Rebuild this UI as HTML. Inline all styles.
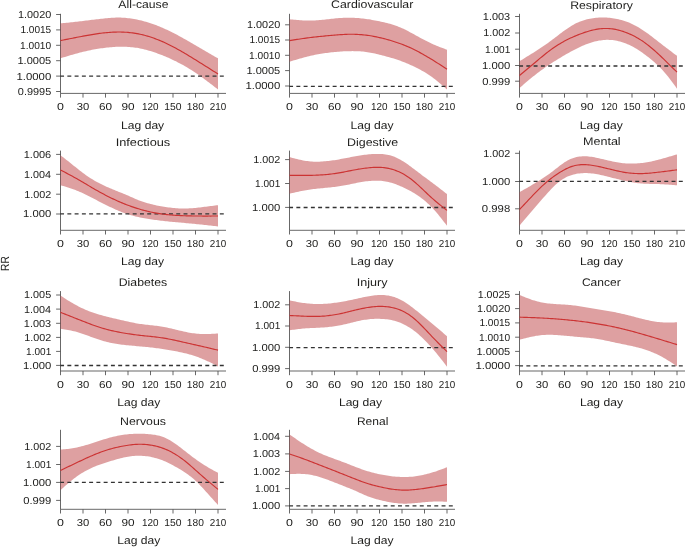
<!DOCTYPE html><html><head><meta charset="utf-8"><style>html,body{margin:0;padding:0;background:#fff;width:685px;height:547px;overflow:hidden}svg{display:block;will-change:transform;text-rendering:geometricPrecision}text{font-family:"Liberation Sans",sans-serif;fill:#1d1d1b}</style></head><body>
<svg width="685" height="547" viewBox="0 0 685 547">
<rect width="685" height="547" fill="#fff"/>
<path d="M60.50,13.80 V93.40 H226.00" fill="none" stroke="#4d4d4d" stroke-width="0.85"/>
<path d="M60.50,23.30 L62.00,23.17 L63.50,23.04 L65.00,22.91 L66.50,22.78 L68.00,22.64 L69.50,22.49 L71.00,22.33 L72.50,22.17 L74.00,22.00 L75.50,21.83 L77.00,21.66 L78.50,21.48 L80.00,21.31 L81.50,21.13 L83.00,20.95 L84.50,20.77 L86.00,20.59 L87.50,20.41 L89.00,20.23 L90.50,20.05 L92.00,19.87 L93.50,19.69 L95.00,19.51 L96.50,19.33 L98.00,19.16 L99.50,18.98 L101.00,18.81 L102.50,18.63 L104.00,18.47 L105.50,18.31 L107.00,18.16 L108.50,18.03 L110.00,17.90 L111.50,17.80 L113.00,17.71 L114.50,17.64 L116.00,17.60 L117.50,17.58 L119.00,17.58 L120.50,17.61 L122.00,17.66 L123.50,17.74 L125.00,17.85 L126.50,17.98 L128.00,18.14 L129.50,18.32 L131.00,18.52 L132.50,18.76 L134.00,19.01 L135.50,19.28 L137.00,19.58 L138.50,19.90 L140.00,20.24 L141.50,20.60 L143.00,20.98 L144.50,21.39 L146.00,21.81 L147.50,22.26 L149.00,22.73 L150.50,23.22 L152.00,23.73 L153.50,24.25 L155.00,24.80 L156.50,25.36 L158.00,25.94 L159.50,26.54 L161.00,27.16 L162.50,27.80 L164.00,28.46 L165.50,29.14 L167.00,29.84 L168.50,30.55 L170.00,31.28 L171.50,32.02 L173.00,32.77 L174.50,33.54 L176.00,34.32 L177.50,35.11 L179.00,35.91 L180.50,36.73 L182.00,37.55 L183.50,38.38 L185.00,39.22 L186.50,40.06 L188.00,40.92 L189.50,41.78 L191.00,42.65 L192.50,43.52 L194.00,44.40 L195.50,45.28 L197.00,46.16 L198.50,47.05 L200.00,47.94 L201.50,48.83 L203.00,49.71 L204.50,50.59 L206.00,51.47 L207.50,52.33 L209.00,53.20 L210.50,54.06 L212.00,54.92 L213.50,55.78 L215.00,56.63 L216.50,57.48 L218.00,58.34 L218.00,89.51 L216.50,88.35 L215.00,87.18 L213.50,86.02 L212.00,84.86 L210.50,83.71 L209.00,82.56 L207.50,81.43 L206.00,80.30 L204.50,79.18 L203.00,78.08 L201.50,76.99 L200.00,75.91 L198.50,74.86 L197.00,73.82 L195.50,72.80 L194.00,71.80 L192.50,70.82 L191.00,69.86 L189.50,68.92 L188.00,68.00 L186.50,67.11 L185.00,66.23 L183.50,65.37 L182.00,64.53 L180.50,63.71 L179.00,62.91 L177.50,62.13 L176.00,61.37 L174.50,60.63 L173.00,59.90 L171.50,59.20 L170.00,58.51 L168.50,57.84 L167.00,57.19 L165.50,56.55 L164.00,55.94 L162.50,55.34 L161.00,54.75 L159.50,54.19 L158.00,53.64 L156.50,53.10 L155.00,52.58 L153.50,52.08 L152.00,51.60 L150.50,51.12 L149.00,50.67 L147.50,50.23 L146.00,49.81 L144.50,49.42 L143.00,49.05 L141.50,48.71 L140.00,48.40 L138.50,48.12 L137.00,47.87 L135.50,47.65 L134.00,47.45 L132.50,47.28 L131.00,47.14 L129.50,47.02 L128.00,46.92 L126.50,46.84 L125.00,46.79 L123.50,46.75 L122.00,46.73 L120.50,46.74 L119.00,46.76 L117.50,46.81 L116.00,46.87 L114.50,46.95 L113.00,47.04 L111.50,47.16 L110.00,47.28 L108.50,47.43 L107.00,47.59 L105.50,47.76 L104.00,47.94 L102.50,48.14 L101.00,48.35 L99.50,48.57 L98.00,48.81 L96.50,49.06 L95.00,49.32 L93.50,49.59 L92.00,49.87 L90.50,50.17 L89.00,50.48 L87.50,50.81 L86.00,51.14 L84.50,51.49 L83.00,51.85 L81.50,52.22 L80.00,52.60 L78.50,53.00 L77.00,53.40 L75.50,53.81 L74.00,54.23 L72.50,54.66 L71.00,55.10 L69.50,55.54 L68.00,55.98 L66.50,56.43 L65.00,56.88 L63.50,57.34 L62.00,57.79 L60.50,58.25 Z" fill="rgb(189,65,67)" fill-opacity="0.5"/>
<line x1="60.10" y1="76.20" x2="226.00" y2="76.20" stroke="#333333" stroke-width="1.3" stroke-dasharray="3.95 3.31"/>
<path d="M60.50,40.59 L62.00,40.29 L63.50,39.98 L65.00,39.68 L66.50,39.38 L68.00,39.08 L69.50,38.78 L71.00,38.48 L72.50,38.19 L74.00,37.89 L75.50,37.60 L77.00,37.31 L78.50,37.02 L80.00,36.73 L81.50,36.45 L83.00,36.16 L84.50,35.89 L86.00,35.61 L87.50,35.34 L89.00,35.07 L90.50,34.81 L92.00,34.56 L93.50,34.32 L95.00,34.08 L96.50,33.85 L98.00,33.64 L99.50,33.43 L101.00,33.23 L102.50,33.05 L104.00,32.88 L105.50,32.72 L107.00,32.58 L108.50,32.45 L110.00,32.34 L111.50,32.25 L113.00,32.17 L114.50,32.10 L116.00,32.06 L117.50,32.03 L119.00,32.02 L120.50,32.03 L122.00,32.07 L123.50,32.12 L125.00,32.20 L126.50,32.30 L128.00,32.42 L129.50,32.57 L131.00,32.74 L132.50,32.93 L134.00,33.14 L135.50,33.38 L137.00,33.64 L138.50,33.92 L140.00,34.23 L141.50,34.56 L143.00,34.92 L144.50,35.29 L146.00,35.69 L147.50,36.12 L149.00,36.57 L150.50,37.04 L152.00,37.54 L153.50,38.06 L155.00,38.60 L156.50,39.17 L158.00,39.75 L159.50,40.36 L161.00,40.99 L162.50,41.64 L164.00,42.31 L165.50,43.00 L167.00,43.71 L168.50,44.44 L170.00,45.18 L171.50,45.95 L173.00,46.72 L174.50,47.52 L176.00,48.33 L177.50,49.16 L179.00,49.99 L180.50,50.85 L182.00,51.71 L183.50,52.58 L185.00,53.47 L186.50,54.36 L188.00,55.26 L189.50,56.17 L191.00,57.08 L192.50,58.00 L194.00,58.93 L195.50,59.85 L197.00,60.78 L198.50,61.72 L200.00,62.65 L201.50,63.59 L203.00,64.53 L204.50,65.47 L206.00,66.41 L207.50,67.36 L209.00,68.30 L210.50,69.25 L212.00,70.20 L213.50,71.14 L215.00,72.09 L216.50,73.04 L218.00,73.99" fill="none" stroke="#cc3333" stroke-width="1.15"/>
<line x1="56.10" y1="14.50" x2="60.50" y2="14.50" stroke="#4d4d4d" stroke-width="0.85"/>
<text transform="matrix(1.0741,0,0,1,18.04,17.90)" font-size="10.1">1.0020</text>
<line x1="56.10" y1="29.90" x2="60.50" y2="29.90" stroke="#4d4d4d" stroke-width="0.85"/>
<text transform="matrix(0.9966,0,0,1,20.40,33.30)" font-size="10.1">1.0015</text>
<line x1="56.10" y1="45.30" x2="60.50" y2="45.30" stroke="#4d4d4d" stroke-width="0.85"/>
<text transform="matrix(1.0067,0,0,1,20.09,48.70)" font-size="10.1">1.0010</text>
<line x1="56.10" y1="60.70" x2="60.50" y2="60.70" stroke="#4d4d4d" stroke-width="0.85"/>
<text transform="matrix(1.0943,0,0,1,17.42,64.10)" font-size="10.1">1.0005</text>
<line x1="56.10" y1="76.10" x2="60.50" y2="76.10" stroke="#4d4d4d" stroke-width="0.85"/>
<text transform="matrix(1.1246,0,0,1,16.50,79.50)" font-size="10.1">1.0000</text>
<line x1="56.10" y1="91.50" x2="60.50" y2="91.50" stroke="#4d4d4d" stroke-width="0.85"/>
<text transform="matrix(1.0797,0,0,1,17.87,94.90)" font-size="10.1">0.9995</text>
<line x1="60.50" y1="93.40" x2="60.50" y2="97.60" stroke="#4d4d4d" stroke-width="0.85"/>
<text transform="matrix(1.2292,0,0,1,57.06,110.20)" font-size="10.1">0</text>
<line x1="83.00" y1="93.40" x2="83.00" y2="97.60" stroke="#4d4d4d" stroke-width="0.85"/>
<text transform="matrix(1.1154,0,0,1,76.75,110.20)" font-size="10.1">30</text>
<line x1="105.50" y1="93.40" x2="105.50" y2="97.60" stroke="#4d4d4d" stroke-width="0.85"/>
<text transform="matrix(1.1650,0,0,1,98.92,110.20)" font-size="10.1">60</text>
<line x1="128.00" y1="93.40" x2="128.00" y2="97.60" stroke="#4d4d4d" stroke-width="0.85"/>
<text transform="matrix(1.1650,0,0,1,121.42,110.20)" font-size="10.1">90</text>
<line x1="150.50" y1="93.40" x2="150.50" y2="97.60" stroke="#4d4d4d" stroke-width="0.85"/>
<text transform="matrix(0.9808,0,0,1,142.07,110.20)" font-size="10.1">120</text>
<line x1="173.00" y1="93.40" x2="173.00" y2="97.60" stroke="#4d4d4d" stroke-width="0.85"/>
<text transform="matrix(1.0256,0,0,1,164.18,110.20)" font-size="10.1">150</text>
<line x1="195.50" y1="93.40" x2="195.50" y2="97.60" stroke="#4d4d4d" stroke-width="0.85"/>
<text transform="matrix(1.0128,0,0,1,186.79,110.20)" font-size="10.1">180</text>
<line x1="218.00" y1="93.40" x2="218.00" y2="97.60" stroke="#4d4d4d" stroke-width="0.85"/>
<text transform="matrix(0.9748,0,0,1,209.76,110.20)" font-size="10.1">210</text>
<text transform="matrix(1.1074,0,0,1,118.35,8.20)" font-size="11.0">All-cause</text>
<text transform="matrix(1.0995,0,0,1,121.11,129.00)" font-size="11.0">Lag day</text>
<path d="M289.50,13.80 V93.40 H455.00" fill="none" stroke="#4d4d4d" stroke-width="0.85"/>
<path d="M289.50,19.30 L291.00,19.45 L292.50,19.59 L294.00,19.73 L295.50,19.87 L297.00,19.99 L298.50,20.11 L300.00,20.22 L301.50,20.32 L303.00,20.41 L304.50,20.48 L306.00,20.53 L307.50,20.57 L309.00,20.58 L310.50,20.58 L312.00,20.55 L313.50,20.50 L315.00,20.42 L316.50,20.33 L318.00,20.22 L319.50,20.09 L321.00,19.95 L322.50,19.79 L324.00,19.63 L325.50,19.47 L327.00,19.30 L328.50,19.13 L330.00,18.95 L331.50,18.79 L333.00,18.63 L334.50,18.47 L336.00,18.33 L337.50,18.20 L339.00,18.08 L340.50,17.97 L342.00,17.88 L343.50,17.81 L345.00,17.75 L346.50,17.71 L348.00,17.69 L349.50,17.69 L351.00,17.71 L352.50,17.76 L354.00,17.81 L355.50,17.89 L357.00,17.99 L358.50,18.10 L360.00,18.23 L361.50,18.38 L363.00,18.55 L364.50,18.73 L366.00,18.93 L367.50,19.14 L369.00,19.37 L370.50,19.62 L372.00,19.88 L373.50,20.16 L375.00,20.44 L376.50,20.74 L378.00,21.05 L379.50,21.36 L381.00,21.68 L382.50,22.01 L384.00,22.35 L385.50,22.70 L387.00,23.07 L388.50,23.46 L390.00,23.86 L391.50,24.30 L393.00,24.75 L394.50,25.24 L396.00,25.76 L397.50,26.31 L399.00,26.89 L400.50,27.52 L402.00,28.18 L403.50,28.87 L405.00,29.60 L406.50,30.35 L408.00,31.12 L409.50,31.91 L411.00,32.71 L412.50,33.53 L414.00,34.35 L415.50,35.17 L417.00,36.00 L418.50,36.82 L420.00,37.64 L421.50,38.46 L423.00,39.26 L424.50,40.05 L426.00,40.83 L427.50,41.60 L429.00,42.34 L430.50,43.07 L432.00,43.77 L433.50,44.45 L435.00,45.10 L436.50,45.73 L438.00,46.34 L439.50,46.93 L441.00,47.50 L442.50,48.06 L444.00,48.61 L445.50,49.16 L447.00,49.70 L447.00,89.46 L445.50,88.14 L444.00,86.82 L442.50,85.51 L441.00,84.22 L439.50,82.95 L438.00,81.71 L436.50,80.51 L435.00,79.33 L433.50,78.19 L432.00,77.09 L430.50,76.03 L429.00,75.00 L427.50,74.00 L426.00,73.05 L424.50,72.12 L423.00,71.23 L421.50,70.38 L420.00,69.55 L418.50,68.75 L417.00,67.98 L415.50,67.24 L414.00,66.51 L412.50,65.81 L411.00,65.13 L409.50,64.46 L408.00,63.81 L406.50,63.18 L405.00,62.57 L403.50,61.98 L402.00,61.41 L400.50,60.85 L399.00,60.32 L397.50,59.81 L396.00,59.31 L394.50,58.83 L393.00,58.37 L391.50,57.92 L390.00,57.48 L388.50,57.06 L387.00,56.64 L385.50,56.24 L384.00,55.84 L382.50,55.46 L381.00,55.08 L379.50,54.70 L378.00,54.33 L376.50,53.97 L375.00,53.62 L373.50,53.28 L372.00,52.96 L370.50,52.67 L369.00,52.40 L367.50,52.16 L366.00,51.95 L364.50,51.76 L363.00,51.60 L361.50,51.47 L360.00,51.36 L358.50,51.27 L357.00,51.21 L355.50,51.16 L354.00,51.13 L352.50,51.12 L351.00,51.13 L349.50,51.15 L348.00,51.18 L346.50,51.23 L345.00,51.29 L343.50,51.37 L342.00,51.45 L340.50,51.55 L339.00,51.66 L337.50,51.78 L336.00,51.90 L334.50,52.04 L333.00,52.19 L331.50,52.35 L330.00,52.52 L328.50,52.70 L327.00,52.89 L325.50,53.09 L324.00,53.30 L322.50,53.53 L321.00,53.76 L319.50,54.02 L318.00,54.28 L316.50,54.56 L315.00,54.86 L313.50,55.17 L312.00,55.50 L310.50,55.84 L309.00,56.20 L307.50,56.57 L306.00,56.95 L304.50,57.35 L303.00,57.76 L301.50,58.17 L300.00,58.60 L298.50,59.03 L297.00,59.47 L295.50,59.92 L294.00,60.37 L292.50,60.82 L291.00,61.28 L289.50,61.73 Z" fill="rgb(189,65,67)" fill-opacity="0.5"/>
<line x1="289.10" y1="86.40" x2="455.00" y2="86.40" stroke="#333333" stroke-width="1.3" stroke-dasharray="3.95 3.31"/>
<path d="M289.50,40.57 L291.00,40.34 L292.50,40.11 L294.00,39.88 L295.50,39.65 L297.00,39.43 L298.50,39.20 L300.00,38.98 L301.50,38.76 L303.00,38.54 L304.50,38.33 L306.00,38.13 L307.50,37.92 L309.00,37.73 L310.50,37.54 L312.00,37.35 L313.50,37.17 L315.00,37.00 L316.50,36.83 L318.00,36.67 L319.50,36.52 L321.00,36.37 L322.50,36.22 L324.00,36.08 L325.50,35.94 L327.00,35.80 L328.50,35.67 L330.00,35.54 L331.50,35.41 L333.00,35.28 L334.50,35.16 L336.00,35.03 L337.50,34.91 L339.00,34.79 L340.50,34.68 L342.00,34.58 L343.50,34.49 L345.00,34.41 L346.50,34.35 L348.00,34.30 L349.50,34.27 L351.00,34.26 L352.50,34.27 L354.00,34.29 L355.50,34.34 L357.00,34.40 L358.50,34.48 L360.00,34.57 L361.50,34.69 L363.00,34.82 L364.50,34.97 L366.00,35.14 L367.50,35.33 L369.00,35.54 L370.50,35.78 L372.00,36.04 L373.50,36.31 L375.00,36.61 L376.50,36.92 L378.00,37.24 L379.50,37.58 L381.00,37.93 L382.50,38.29 L384.00,38.67 L385.50,39.06 L387.00,39.46 L388.50,39.87 L390.00,40.30 L391.50,40.75 L393.00,41.21 L394.50,41.68 L396.00,42.18 L397.50,42.68 L399.00,43.21 L400.50,43.75 L402.00,44.31 L403.50,44.89 L405.00,45.48 L406.50,46.10 L408.00,46.74 L409.50,47.40 L411.00,48.08 L412.50,48.78 L414.00,49.51 L415.50,50.26 L417.00,51.03 L418.50,51.82 L420.00,52.63 L421.50,53.45 L423.00,54.29 L424.50,55.14 L426.00,56.01 L427.50,56.88 L429.00,57.77 L430.50,58.67 L432.00,59.59 L433.50,60.51 L435.00,61.45 L436.50,62.40 L438.00,63.36 L439.50,64.33 L441.00,65.32 L442.50,66.30 L444.00,67.30 L445.50,68.29 L447.00,69.29" fill="none" stroke="#cc3333" stroke-width="1.15"/>
<line x1="285.10" y1="24.80" x2="289.50" y2="24.80" stroke="#4d4d4d" stroke-width="0.85"/>
<text transform="matrix(1.0741,0,0,1,247.04,28.20)" font-size="10.1">1.0020</text>
<line x1="285.10" y1="40.00" x2="289.50" y2="40.00" stroke="#4d4d4d" stroke-width="0.85"/>
<text transform="matrix(0.9966,0,0,1,249.40,43.40)" font-size="10.1">1.0015</text>
<line x1="285.10" y1="55.30" x2="289.50" y2="55.30" stroke="#4d4d4d" stroke-width="0.85"/>
<text transform="matrix(1.0067,0,0,1,249.09,58.70)" font-size="10.1">1.0010</text>
<line x1="285.10" y1="70.60" x2="289.50" y2="70.60" stroke="#4d4d4d" stroke-width="0.85"/>
<text transform="matrix(1.0943,0,0,1,246.42,74.00)" font-size="10.1">1.0005</text>
<line x1="285.10" y1="86.00" x2="289.50" y2="86.00" stroke="#4d4d4d" stroke-width="0.85"/>
<text transform="matrix(1.1246,0,0,1,245.50,89.40)" font-size="10.1">1.0000</text>
<line x1="289.50" y1="93.40" x2="289.50" y2="97.60" stroke="#4d4d4d" stroke-width="0.85"/>
<text transform="matrix(1.2292,0,0,1,286.06,110.20)" font-size="10.1">0</text>
<line x1="312.00" y1="93.40" x2="312.00" y2="97.60" stroke="#4d4d4d" stroke-width="0.85"/>
<text transform="matrix(1.1154,0,0,1,305.75,110.20)" font-size="10.1">30</text>
<line x1="334.50" y1="93.40" x2="334.50" y2="97.60" stroke="#4d4d4d" stroke-width="0.85"/>
<text transform="matrix(1.1650,0,0,1,327.92,110.20)" font-size="10.1">60</text>
<line x1="357.00" y1="93.40" x2="357.00" y2="97.60" stroke="#4d4d4d" stroke-width="0.85"/>
<text transform="matrix(1.1650,0,0,1,350.42,110.20)" font-size="10.1">90</text>
<line x1="379.50" y1="93.40" x2="379.50" y2="97.60" stroke="#4d4d4d" stroke-width="0.85"/>
<text transform="matrix(0.9808,0,0,1,371.07,110.20)" font-size="10.1">120</text>
<line x1="402.00" y1="93.40" x2="402.00" y2="97.60" stroke="#4d4d4d" stroke-width="0.85"/>
<text transform="matrix(1.0256,0,0,1,393.18,110.20)" font-size="10.1">150</text>
<line x1="424.50" y1="93.40" x2="424.50" y2="97.60" stroke="#4d4d4d" stroke-width="0.85"/>
<text transform="matrix(1.0128,0,0,1,415.79,110.20)" font-size="10.1">180</text>
<line x1="447.00" y1="93.40" x2="447.00" y2="97.60" stroke="#4d4d4d" stroke-width="0.85"/>
<text transform="matrix(0.9748,0,0,1,438.76,110.20)" font-size="10.1">210</text>
<text transform="matrix(1.1210,0,0,1,331.09,8.40)" font-size="11.0">Cardiovascular</text>
<text transform="matrix(1.0995,0,0,1,350.51,129.00)" font-size="11.0">Lag day</text>
<path d="M519.50,13.80 V93.40 H685.00" fill="none" stroke="#4d4d4d" stroke-width="0.85"/>
<path d="M519.50,61.23 L521.00,60.31 L522.50,59.39 L524.00,58.47 L525.50,57.54 L527.00,56.62 L528.50,55.69 L530.00,54.76 L531.50,53.82 L533.00,52.88 L534.50,51.94 L536.00,50.98 L537.50,50.03 L539.00,49.06 L540.50,48.07 L542.00,47.08 L543.50,46.06 L545.00,45.03 L546.50,43.98 L548.00,42.90 L549.50,41.81 L551.00,40.69 L552.50,39.56 L554.00,38.43 L555.50,37.28 L557.00,36.13 L558.50,34.99 L560.00,33.85 L561.50,32.72 L563.00,31.60 L564.50,30.51 L566.00,29.44 L567.50,28.40 L569.00,27.40 L570.50,26.44 L572.00,25.53 L573.50,24.66 L575.00,23.85 L576.50,23.10 L578.00,22.41 L579.50,21.77 L581.00,21.19 L582.50,20.66 L584.00,20.19 L585.50,19.75 L587.00,19.36 L588.50,19.01 L590.00,18.70 L591.50,18.43 L593.00,18.19 L594.50,17.98 L596.00,17.82 L597.50,17.68 L599.00,17.58 L600.50,17.52 L602.00,17.48 L603.50,17.48 L605.00,17.52 L606.50,17.58 L608.00,17.68 L609.50,17.81 L611.00,17.97 L612.50,18.17 L614.00,18.40 L615.50,18.66 L617.00,18.95 L618.50,19.27 L620.00,19.63 L621.50,20.02 L623.00,20.45 L624.50,20.92 L626.00,21.43 L627.50,21.98 L629.00,22.57 L630.50,23.22 L632.00,23.90 L633.50,24.64 L635.00,25.42 L636.50,26.24 L638.00,27.10 L639.50,28.00 L641.00,28.94 L642.50,29.91 L644.00,30.92 L645.50,31.96 L647.00,33.02 L648.50,34.11 L650.00,35.22 L651.50,36.35 L653.00,37.49 L654.50,38.65 L656.00,39.82 L657.50,40.99 L659.00,42.16 L660.50,43.34 L662.00,44.50 L663.50,45.66 L665.00,46.81 L666.50,47.96 L668.00,49.10 L669.50,50.24 L671.00,51.37 L672.50,52.50 L674.00,53.63 L675.50,54.75 L677.00,55.87 L677.00,88.69 L675.50,86.59 L674.00,84.51 L672.50,82.45 L671.00,80.43 L669.50,78.47 L668.00,76.56 L666.50,74.71 L665.00,72.93 L663.50,71.22 L662.00,69.58 L660.50,68.01 L659.00,66.51 L657.50,65.06 L656.00,63.66 L654.50,62.30 L653.00,60.99 L651.50,59.72 L650.00,58.49 L648.50,57.30 L647.00,56.13 L645.50,54.99 L644.00,53.88 L642.50,52.79 L641.00,51.74 L639.50,50.73 L638.00,49.76 L636.50,48.83 L635.00,47.94 L633.50,47.09 L632.00,46.29 L630.50,45.53 L629.00,44.82 L627.50,44.15 L626.00,43.53 L624.50,42.95 L623.00,42.43 L621.50,41.95 L620.00,41.52 L618.50,41.14 L617.00,40.81 L615.50,40.53 L614.00,40.29 L612.50,40.11 L611.00,39.97 L609.50,39.89 L608.00,39.85 L606.50,39.86 L605.00,39.92 L603.50,40.03 L602.00,40.18 L600.50,40.38 L599.00,40.62 L597.50,40.91 L596.00,41.24 L594.50,41.61 L593.00,42.01 L591.50,42.46 L590.00,42.94 L588.50,43.45 L587.00,44.00 L585.50,44.58 L584.00,45.19 L582.50,45.83 L581.00,46.49 L579.50,47.18 L578.00,47.90 L576.50,48.64 L575.00,49.40 L573.50,50.18 L572.00,50.98 L570.50,51.79 L569.00,52.63 L567.50,53.48 L566.00,54.34 L564.50,55.21 L563.00,56.10 L561.50,57.00 L560.00,57.90 L558.50,58.81 L557.00,59.74 L555.50,60.67 L554.00,61.62 L552.50,62.58 L551.00,63.55 L549.50,64.54 L548.00,65.54 L546.50,66.56 L545.00,67.60 L543.50,68.66 L542.00,69.74 L540.50,70.83 L539.00,71.95 L537.50,73.08 L536.00,74.24 L534.50,75.41 L533.00,76.61 L531.50,77.82 L530.00,79.06 L528.50,80.31 L527.00,81.57 L525.50,82.84 L524.00,84.12 L522.50,85.41 L521.00,86.70 L519.50,87.99 Z" fill="rgb(189,65,67)" fill-opacity="0.5"/>
<line x1="519.10" y1="66.00" x2="685.00" y2="66.00" stroke="#333333" stroke-width="1.3" stroke-dasharray="3.95 3.31"/>
<path d="M519.50,75.54 L521.00,74.29 L522.50,73.03 L524.00,71.78 L525.50,70.53 L527.00,69.27 L528.50,68.02 L530.00,66.76 L531.50,65.50 L533.00,64.24 L534.50,62.97 L536.00,61.70 L537.50,60.44 L539.00,59.18 L540.50,57.93 L542.00,56.69 L543.50,55.46 L545.00,54.26 L546.50,53.07 L548.00,51.91 L549.50,50.77 L551.00,49.66 L552.50,48.58 L554.00,47.53 L555.50,46.51 L557.00,45.52 L558.50,44.57 L560.00,43.64 L561.50,42.76 L563.00,41.90 L564.50,41.08 L566.00,40.29 L567.50,39.53 L569.00,38.80 L570.50,38.09 L572.00,37.41 L573.50,36.75 L575.00,36.10 L576.50,35.48 L578.00,34.87 L579.50,34.28 L581.00,33.72 L582.50,33.17 L584.00,32.65 L585.50,32.15 L587.00,31.68 L588.50,31.23 L590.00,30.81 L591.50,30.42 L593.00,30.05 L594.50,29.72 L596.00,29.42 L597.50,29.16 L599.00,28.94 L600.50,28.76 L602.00,28.62 L603.50,28.52 L605.00,28.47 L606.50,28.47 L608.00,28.52 L609.50,28.60 L611.00,28.74 L612.50,28.92 L614.00,29.14 L615.50,29.41 L617.00,29.73 L618.50,30.09 L620.00,30.49 L621.50,30.93 L623.00,31.41 L624.50,31.94 L626.00,32.50 L627.50,33.09 L629.00,33.73 L630.50,34.39 L632.00,35.09 L633.50,35.83 L635.00,36.60 L636.50,37.42 L638.00,38.27 L639.50,39.17 L641.00,40.11 L642.50,41.10 L644.00,42.14 L645.50,43.21 L647.00,44.34 L648.50,45.50 L650.00,46.70 L651.50,47.94 L653.00,49.21 L654.50,50.52 L656.00,51.86 L657.50,53.23 L659.00,54.62 L660.50,56.04 L662.00,57.48 L663.50,58.94 L665.00,60.41 L666.50,61.89 L668.00,63.37 L669.50,64.85 L671.00,66.32 L672.50,67.78 L674.00,69.24 L675.50,70.69 L677.00,72.14" fill="none" stroke="#cc3333" stroke-width="1.15"/>
<line x1="515.10" y1="16.50" x2="519.50" y2="16.50" stroke="#4d4d4d" stroke-width="0.85"/>
<text transform="matrix(1.0830,0,0,1,482.83,19.90)" font-size="10.1">1.003</text>
<line x1="515.10" y1="33.00" x2="519.50" y2="33.00" stroke="#4d4d4d" stroke-width="0.85"/>
<text transform="matrix(1.0667,0,0,1,483.35,36.40)" font-size="10.1">1.002</text>
<line x1="515.10" y1="49.20" x2="519.50" y2="49.20" stroke="#4d4d4d" stroke-width="0.85"/>
<text transform="matrix(0.9958,0,0,1,485.10,52.60)" font-size="10.1">1.001</text>
<line x1="515.10" y1="65.50" x2="519.50" y2="65.50" stroke="#4d4d4d" stroke-width="0.85"/>
<text transform="matrix(1.1162,0,0,1,482.01,68.90)" font-size="10.1">1.000</text>
<line x1="515.10" y1="81.20" x2="519.50" y2="81.20" stroke="#4d4d4d" stroke-width="0.85"/>
<text transform="matrix(1.1107,0,0,1,482.26,84.60)" font-size="10.1">0.999</text>
<line x1="519.50" y1="93.40" x2="519.50" y2="97.60" stroke="#4d4d4d" stroke-width="0.85"/>
<text transform="matrix(1.2292,0,0,1,516.06,110.20)" font-size="10.1">0</text>
<line x1="542.00" y1="93.40" x2="542.00" y2="97.60" stroke="#4d4d4d" stroke-width="0.85"/>
<text transform="matrix(1.1154,0,0,1,535.75,110.20)" font-size="10.1">30</text>
<line x1="564.50" y1="93.40" x2="564.50" y2="97.60" stroke="#4d4d4d" stroke-width="0.85"/>
<text transform="matrix(1.1650,0,0,1,557.92,110.20)" font-size="10.1">60</text>
<line x1="587.00" y1="93.40" x2="587.00" y2="97.60" stroke="#4d4d4d" stroke-width="0.85"/>
<text transform="matrix(1.1650,0,0,1,580.42,110.20)" font-size="10.1">90</text>
<line x1="609.50" y1="93.40" x2="609.50" y2="97.60" stroke="#4d4d4d" stroke-width="0.85"/>
<text transform="matrix(0.9808,0,0,1,601.07,110.20)" font-size="10.1">120</text>
<line x1="632.00" y1="93.40" x2="632.00" y2="97.60" stroke="#4d4d4d" stroke-width="0.85"/>
<text transform="matrix(1.0256,0,0,1,623.18,110.20)" font-size="10.1">150</text>
<line x1="654.50" y1="93.40" x2="654.50" y2="97.60" stroke="#4d4d4d" stroke-width="0.85"/>
<text transform="matrix(1.0128,0,0,1,645.79,110.20)" font-size="10.1">180</text>
<line x1="677.00" y1="93.40" x2="677.00" y2="97.60" stroke="#4d4d4d" stroke-width="0.85"/>
<text transform="matrix(0.9748,0,0,1,668.76,110.20)" font-size="10.1">210</text>
<text transform="matrix(1.1157,0,0,1,570.15,8.50)" font-size="11.0">Respiratory</text>
<text transform="matrix(1.0995,0,0,1,579.71,129.00)" font-size="11.0">Lag day</text>
<path d="M60.50,150.60 V230.30 H226.00" fill="none" stroke="#4d4d4d" stroke-width="0.85"/>
<path d="M60.50,155.23 L62.00,156.40 L63.50,157.58 L65.00,158.75 L66.50,159.93 L68.00,161.12 L69.50,162.30 L71.00,163.50 L72.50,164.70 L74.00,165.91 L75.50,167.12 L77.00,168.32 L78.50,169.52 L80.00,170.70 L81.50,171.85 L83.00,172.98 L84.50,174.08 L86.00,175.15 L87.50,176.19 L89.00,177.19 L90.50,178.17 L92.00,179.11 L93.50,180.01 L95.00,180.88 L96.50,181.73 L98.00,182.54 L99.50,183.32 L101.00,184.08 L102.50,184.81 L104.00,185.52 L105.50,186.21 L107.00,186.89 L108.50,187.55 L110.00,188.19 L111.50,188.83 L113.00,189.45 L114.50,190.07 L116.00,190.68 L117.50,191.28 L119.00,191.89 L120.50,192.49 L122.00,193.10 L123.50,193.71 L125.00,194.33 L126.50,194.96 L128.00,195.59 L129.50,196.25 L131.00,196.91 L132.50,197.57 L134.00,198.23 L135.50,198.88 L137.00,199.51 L138.50,200.13 L140.00,200.71 L141.50,201.27 L143.00,201.80 L144.50,202.29 L146.00,202.75 L147.50,203.19 L149.00,203.60 L150.50,204.00 L152.00,204.37 L153.50,204.72 L155.00,205.06 L156.50,205.38 L158.00,205.68 L159.50,205.97 L161.00,206.25 L162.50,206.51 L164.00,206.76 L165.50,206.99 L167.00,207.21 L168.50,207.42 L170.00,207.61 L171.50,207.78 L173.00,207.94 L174.50,208.08 L176.00,208.21 L177.50,208.31 L179.00,208.40 L180.50,208.46 L182.00,208.51 L183.50,208.52 L185.00,208.52 L186.50,208.49 L188.00,208.43 L189.50,208.36 L191.00,208.26 L192.50,208.15 L194.00,208.02 L195.50,207.88 L197.00,207.73 L198.50,207.56 L200.00,207.39 L201.50,207.20 L203.00,207.02 L204.50,206.83 L206.00,206.64 L207.50,206.45 L209.00,206.26 L210.50,206.08 L212.00,205.89 L213.50,205.71 L215.00,205.53 L216.50,205.35 L218.00,205.17 L218.00,226.38 L216.50,226.21 L215.00,226.05 L213.50,225.88 L212.00,225.71 L210.50,225.55 L209.00,225.38 L207.50,225.22 L206.00,225.06 L204.50,224.91 L203.00,224.75 L201.50,224.60 L200.00,224.44 L198.50,224.29 L197.00,224.14 L195.50,223.99 L194.00,223.85 L192.50,223.70 L191.00,223.56 L189.50,223.42 L188.00,223.28 L186.50,223.14 L185.00,223.00 L183.50,222.86 L182.00,222.73 L180.50,222.59 L179.00,222.46 L177.50,222.32 L176.00,222.19 L174.50,222.05 L173.00,221.91 L171.50,221.77 L170.00,221.63 L168.50,221.48 L167.00,221.33 L165.50,221.18 L164.00,221.02 L162.50,220.85 L161.00,220.68 L159.50,220.50 L158.00,220.32 L156.50,220.12 L155.00,219.92 L153.50,219.72 L152.00,219.50 L150.50,219.28 L149.00,219.05 L147.50,218.81 L146.00,218.56 L144.50,218.30 L143.00,218.02 L141.50,217.73 L140.00,217.42 L138.50,217.10 L137.00,216.76 L135.50,216.40 L134.00,216.02 L132.50,215.62 L131.00,215.19 L129.50,214.74 L128.00,214.27 L126.50,213.77 L125.00,213.25 L123.50,212.71 L122.00,212.14 L120.50,211.55 L119.00,210.94 L117.50,210.31 L116.00,209.66 L114.50,209.00 L113.00,208.32 L111.50,207.62 L110.00,206.91 L108.50,206.19 L107.00,205.46 L105.50,204.72 L104.00,203.96 L102.50,203.20 L101.00,202.44 L99.50,201.67 L98.00,200.89 L96.50,200.11 L95.00,199.33 L93.50,198.54 L92.00,197.76 L90.50,196.98 L89.00,196.21 L87.50,195.45 L86.00,194.70 L84.50,193.97 L83.00,193.26 L81.50,192.58 L80.00,191.93 L78.50,191.29 L77.00,190.69 L75.50,190.10 L74.00,189.54 L72.50,189.00 L71.00,188.48 L69.50,187.98 L68.00,187.49 L66.50,187.02 L65.00,186.56 L63.50,186.11 L62.00,185.67 L60.50,185.23 Z" fill="rgb(189,65,67)" fill-opacity="0.5"/>
<line x1="60.10" y1="213.90" x2="226.00" y2="213.90" stroke="#333333" stroke-width="1.3" stroke-dasharray="3.95 3.31"/>
<path d="M60.50,170.01 L62.00,170.78 L63.50,171.56 L65.00,172.34 L66.50,173.13 L68.00,173.92 L69.50,174.71 L71.00,175.52 L72.50,176.33 L74.00,177.16 L75.50,178.00 L77.00,178.84 L78.50,179.70 L80.00,180.56 L81.50,181.44 L83.00,182.31 L84.50,183.20 L86.00,184.09 L87.50,184.98 L89.00,185.87 L90.50,186.76 L92.00,187.65 L93.50,188.52 L95.00,189.39 L96.50,190.24 L98.00,191.09 L99.50,191.92 L101.00,192.74 L102.50,193.55 L104.00,194.35 L105.50,195.14 L107.00,195.92 L108.50,196.68 L110.00,197.43 L111.50,198.17 L113.00,198.89 L114.50,199.60 L116.00,200.29 L117.50,200.96 L119.00,201.62 L120.50,202.26 L122.00,202.89 L123.50,203.50 L125.00,204.10 L126.50,204.68 L128.00,205.25 L129.50,205.80 L131.00,206.34 L132.50,206.87 L134.00,207.38 L135.50,207.87 L137.00,208.36 L138.50,208.82 L140.00,209.27 L141.50,209.70 L143.00,210.12 L144.50,210.52 L146.00,210.90 L147.50,211.27 L149.00,211.62 L150.50,211.95 L152.00,212.27 L153.50,212.57 L155.00,212.85 L156.50,213.11 L158.00,213.36 L159.50,213.60 L161.00,213.82 L162.50,214.03 L164.00,214.23 L165.50,214.42 L167.00,214.59 L168.50,214.75 L170.00,214.89 L171.50,215.03 L173.00,215.15 L174.50,215.26 L176.00,215.36 L177.50,215.45 L179.00,215.53 L180.50,215.60 L182.00,215.66 L183.50,215.72 L185.00,215.77 L186.50,215.82 L188.00,215.86 L189.50,215.89 L191.00,215.93 L192.50,215.95 L194.00,215.98 L195.50,216.00 L197.00,216.02 L198.50,216.03 L200.00,216.04 L201.50,216.05 L203.00,216.05 L204.50,216.06 L206.00,216.06 L207.50,216.06 L209.00,216.05 L210.50,216.05 L212.00,216.04 L213.50,216.04 L215.00,216.03 L216.50,216.02 L218.00,216.01" fill="none" stroke="#cc3333" stroke-width="1.15"/>
<line x1="56.10" y1="154.40" x2="60.50" y2="154.40" stroke="#4d4d4d" stroke-width="0.85"/>
<text transform="matrix(1.0871,0,0,1,23.73,157.80)" font-size="10.1">1.006</text>
<line x1="56.10" y1="174.30" x2="60.50" y2="174.30" stroke="#4d4d4d" stroke-width="0.85"/>
<text transform="matrix(1.0702,0,0,1,24.04,177.70)" font-size="10.1">1.004</text>
<line x1="56.10" y1="194.20" x2="60.50" y2="194.20" stroke="#4d4d4d" stroke-width="0.85"/>
<text transform="matrix(1.0667,0,0,1,24.35,197.60)" font-size="10.1">1.002</text>
<line x1="56.10" y1="214.00" x2="60.50" y2="214.00" stroke="#4d4d4d" stroke-width="0.85"/>
<text transform="matrix(1.1162,0,0,1,23.01,217.40)" font-size="10.1">1.000</text>
<line x1="60.50" y1="230.30" x2="60.50" y2="234.50" stroke="#4d4d4d" stroke-width="0.85"/>
<text transform="matrix(1.2292,0,0,1,57.06,247.10)" font-size="10.1">0</text>
<line x1="83.00" y1="230.30" x2="83.00" y2="234.50" stroke="#4d4d4d" stroke-width="0.85"/>
<text transform="matrix(1.1154,0,0,1,76.75,247.10)" font-size="10.1">30</text>
<line x1="105.50" y1="230.30" x2="105.50" y2="234.50" stroke="#4d4d4d" stroke-width="0.85"/>
<text transform="matrix(1.1650,0,0,1,98.92,247.10)" font-size="10.1">60</text>
<line x1="128.00" y1="230.30" x2="128.00" y2="234.50" stroke="#4d4d4d" stroke-width="0.85"/>
<text transform="matrix(1.1650,0,0,1,121.42,247.10)" font-size="10.1">90</text>
<line x1="150.50" y1="230.30" x2="150.50" y2="234.50" stroke="#4d4d4d" stroke-width="0.85"/>
<text transform="matrix(0.9808,0,0,1,142.07,247.10)" font-size="10.1">120</text>
<line x1="173.00" y1="230.30" x2="173.00" y2="234.50" stroke="#4d4d4d" stroke-width="0.85"/>
<text transform="matrix(1.0256,0,0,1,164.18,247.10)" font-size="10.1">150</text>
<line x1="195.50" y1="230.30" x2="195.50" y2="234.50" stroke="#4d4d4d" stroke-width="0.85"/>
<text transform="matrix(1.0128,0,0,1,186.79,247.10)" font-size="10.1">180</text>
<line x1="218.00" y1="230.30" x2="218.00" y2="234.50" stroke="#4d4d4d" stroke-width="0.85"/>
<text transform="matrix(0.9748,0,0,1,209.76,247.10)" font-size="10.1">210</text>
<text transform="matrix(1.1597,0,0,1,115.64,145.60)" font-size="11.0">Infectious</text>
<text transform="matrix(1.0995,0,0,1,121.01,264.50)" font-size="11.0">Lag day</text>
<path d="M289.50,150.60 V230.30 H455.00" fill="none" stroke="#4d4d4d" stroke-width="0.85"/>
<path d="M289.50,157.10 L291.00,157.51 L292.50,157.91 L294.00,158.31 L295.50,158.70 L297.00,159.08 L298.50,159.44 L300.00,159.78 L301.50,160.10 L303.00,160.40 L304.50,160.66 L306.00,160.91 L307.50,161.12 L309.00,161.30 L310.50,161.44 L312.00,161.55 L313.50,161.63 L315.00,161.67 L316.50,161.69 L318.00,161.67 L319.50,161.63 L321.00,161.56 L322.50,161.47 L324.00,161.36 L325.50,161.23 L327.00,161.09 L328.50,160.93 L330.00,160.75 L331.50,160.56 L333.00,160.35 L334.50,160.13 L336.00,159.89 L337.50,159.64 L339.00,159.38 L340.50,159.11 L342.00,158.83 L343.50,158.55 L345.00,158.26 L346.50,157.97 L348.00,157.68 L349.50,157.39 L351.00,157.11 L352.50,156.82 L354.00,156.55 L355.50,156.27 L357.00,156.01 L358.50,155.75 L360.00,155.51 L361.50,155.28 L363.00,155.05 L364.50,154.85 L366.00,154.66 L367.50,154.48 L369.00,154.33 L370.50,154.19 L372.00,154.08 L373.50,153.99 L375.00,153.92 L376.50,153.89 L378.00,153.88 L379.50,153.91 L381.00,153.98 L382.50,154.09 L384.00,154.24 L385.50,154.44 L387.00,154.69 L388.50,154.99 L390.00,155.35 L391.50,155.78 L393.00,156.27 L394.50,156.84 L396.00,157.47 L397.50,158.17 L399.00,158.93 L400.50,159.76 L402.00,160.64 L403.50,161.56 L405.00,162.53 L406.50,163.54 L408.00,164.59 L409.50,165.66 L411.00,166.76 L412.50,167.88 L414.00,169.01 L415.50,170.15 L417.00,171.30 L418.50,172.46 L420.00,173.61 L421.50,174.75 L423.00,175.88 L424.50,177.00 L426.00,178.12 L427.50,179.22 L429.00,180.33 L430.50,181.44 L432.00,182.55 L433.50,183.67 L435.00,184.79 L436.50,185.92 L438.00,187.07 L439.50,188.23 L441.00,189.39 L442.50,190.56 L444.00,191.74 L445.50,192.92 L447.00,194.10 L447.00,225.82 L445.50,223.85 L444.00,221.88 L442.50,219.94 L441.00,218.03 L439.50,216.17 L438.00,214.35 L436.50,212.58 L435.00,210.86 L433.50,209.20 L432.00,207.60 L430.50,206.06 L429.00,204.59 L427.50,203.19 L426.00,201.85 L424.50,200.57 L423.00,199.35 L421.50,198.18 L420.00,197.06 L418.50,195.99 L417.00,194.97 L415.50,194.00 L414.00,193.07 L412.50,192.17 L411.00,191.32 L409.50,190.50 L408.00,189.70 L406.50,188.94 L405.00,188.20 L403.50,187.49 L402.00,186.80 L400.50,186.14 L399.00,185.50 L397.50,184.90 L396.00,184.33 L394.50,183.79 L393.00,183.28 L391.50,182.81 L390.00,182.39 L388.50,182.02 L387.00,181.69 L385.50,181.40 L384.00,181.17 L382.50,180.97 L381.00,180.83 L379.50,180.72 L378.00,180.66 L376.50,180.63 L375.00,180.65 L373.50,180.70 L372.00,180.78 L370.50,180.88 L369.00,181.02 L367.50,181.18 L366.00,181.36 L364.50,181.56 L363.00,181.79 L361.50,182.03 L360.00,182.28 L358.50,182.56 L357.00,182.84 L355.50,183.14 L354.00,183.45 L352.50,183.77 L351.00,184.08 L349.50,184.40 L348.00,184.71 L346.50,185.01 L345.00,185.29 L343.50,185.57 L342.00,185.82 L340.50,186.07 L339.00,186.30 L337.50,186.52 L336.00,186.72 L334.50,186.91 L333.00,187.09 L331.50,187.26 L330.00,187.42 L328.50,187.57 L327.00,187.72 L325.50,187.86 L324.00,188.00 L322.50,188.14 L321.00,188.28 L319.50,188.43 L318.00,188.58 L316.50,188.73 L315.00,188.90 L313.50,189.08 L312.00,189.28 L310.50,189.49 L309.00,189.71 L307.50,189.95 L306.00,190.21 L304.50,190.48 L303.00,190.76 L301.50,191.05 L300.00,191.36 L298.50,191.67 L297.00,192.00 L295.50,192.33 L294.00,192.67 L292.50,193.01 L291.00,193.36 L289.50,193.71 Z" fill="rgb(189,65,67)" fill-opacity="0.5"/>
<line x1="289.10" y1="207.50" x2="455.00" y2="207.50" stroke="#333333" stroke-width="1.3" stroke-dasharray="3.95 3.31"/>
<path d="M289.50,175.33 L291.00,175.35 L292.50,175.36 L294.00,175.38 L295.50,175.39 L297.00,175.40 L298.50,175.41 L300.00,175.42 L301.50,175.42 L303.00,175.42 L304.50,175.42 L306.00,175.41 L307.50,175.39 L309.00,175.37 L310.50,175.34 L312.00,175.31 L313.50,175.26 L315.00,175.21 L316.50,175.15 L318.00,175.09 L319.50,175.01 L321.00,174.92 L322.50,174.82 L324.00,174.71 L325.50,174.59 L327.00,174.46 L328.50,174.31 L330.00,174.15 L331.50,173.97 L333.00,173.78 L334.50,173.58 L336.00,173.36 L337.50,173.12 L339.00,172.87 L340.50,172.61 L342.00,172.34 L343.50,172.06 L345.00,171.77 L346.50,171.48 L348.00,171.18 L349.50,170.88 L351.00,170.58 L352.50,170.29 L354.00,170.00 L355.50,169.72 L357.00,169.45 L358.50,169.19 L360.00,168.95 L361.50,168.72 L363.00,168.50 L364.50,168.30 L366.00,168.12 L367.50,167.95 L369.00,167.79 L370.50,167.65 L372.00,167.53 L373.50,167.43 L375.00,167.36 L376.50,167.31 L378.00,167.30 L379.50,167.33 L381.00,167.40 L382.50,167.51 L384.00,167.66 L385.50,167.86 L387.00,168.10 L388.50,168.39 L390.00,168.73 L391.50,169.12 L393.00,169.57 L394.50,170.06 L396.00,170.60 L397.50,171.20 L399.00,171.84 L400.50,172.55 L402.00,173.30 L403.50,174.11 L405.00,174.98 L406.50,175.91 L408.00,176.90 L409.50,177.95 L411.00,179.06 L412.50,180.23 L414.00,181.46 L415.50,182.75 L417.00,184.07 L418.50,185.44 L420.00,186.83 L421.50,188.25 L423.00,189.67 L424.50,191.10 L426.00,192.53 L427.50,193.96 L429.00,195.36 L430.50,196.75 L432.00,198.11 L433.50,199.43 L435.00,200.73 L436.50,201.99 L438.00,203.24 L439.50,204.46 L441.00,205.66 L442.50,206.85 L444.00,208.04 L445.50,209.21 L447.00,210.39" fill="none" stroke="#cc3333" stroke-width="1.15"/>
<line x1="285.10" y1="159.60" x2="289.50" y2="159.60" stroke="#4d4d4d" stroke-width="0.85"/>
<text transform="matrix(1.0667,0,0,1,253.35,163.00)" font-size="10.1">1.002</text>
<line x1="285.10" y1="183.50" x2="289.50" y2="183.50" stroke="#4d4d4d" stroke-width="0.85"/>
<text transform="matrix(0.9958,0,0,1,255.10,186.90)" font-size="10.1">1.001</text>
<line x1="285.10" y1="207.40" x2="289.50" y2="207.40" stroke="#4d4d4d" stroke-width="0.85"/>
<text transform="matrix(1.1162,0,0,1,252.01,210.80)" font-size="10.1">1.000</text>
<line x1="289.50" y1="230.30" x2="289.50" y2="234.50" stroke="#4d4d4d" stroke-width="0.85"/>
<text transform="matrix(1.2292,0,0,1,286.06,247.10)" font-size="10.1">0</text>
<line x1="312.00" y1="230.30" x2="312.00" y2="234.50" stroke="#4d4d4d" stroke-width="0.85"/>
<text transform="matrix(1.1154,0,0,1,305.75,247.10)" font-size="10.1">30</text>
<line x1="334.50" y1="230.30" x2="334.50" y2="234.50" stroke="#4d4d4d" stroke-width="0.85"/>
<text transform="matrix(1.1650,0,0,1,327.92,247.10)" font-size="10.1">60</text>
<line x1="357.00" y1="230.30" x2="357.00" y2="234.50" stroke="#4d4d4d" stroke-width="0.85"/>
<text transform="matrix(1.1650,0,0,1,350.42,247.10)" font-size="10.1">90</text>
<line x1="379.50" y1="230.30" x2="379.50" y2="234.50" stroke="#4d4d4d" stroke-width="0.85"/>
<text transform="matrix(0.9808,0,0,1,371.07,247.10)" font-size="10.1">120</text>
<line x1="402.00" y1="230.30" x2="402.00" y2="234.50" stroke="#4d4d4d" stroke-width="0.85"/>
<text transform="matrix(1.0256,0,0,1,393.18,247.10)" font-size="10.1">150</text>
<line x1="424.50" y1="230.30" x2="424.50" y2="234.50" stroke="#4d4d4d" stroke-width="0.85"/>
<text transform="matrix(1.0128,0,0,1,415.79,247.10)" font-size="10.1">180</text>
<line x1="447.00" y1="230.30" x2="447.00" y2="234.50" stroke="#4d4d4d" stroke-width="0.85"/>
<text transform="matrix(0.9748,0,0,1,438.76,247.10)" font-size="10.1">210</text>
<text transform="matrix(1.1301,0,0,1,347.03,145.60)" font-size="11.0">Digestive</text>
<text transform="matrix(1.0995,0,0,1,350.51,264.50)" font-size="11.0">Lag day</text>
<path d="M519.50,150.60 V230.30 H685.00" fill="none" stroke="#4d4d4d" stroke-width="0.85"/>
<path d="M519.50,192.14 L521.00,191.29 L522.50,190.45 L524.00,189.60 L525.50,188.75 L527.00,187.89 L528.50,187.02 L530.00,186.15 L531.50,185.27 L533.00,184.37 L534.50,183.46 L536.00,182.54 L537.50,181.61 L539.00,180.68 L540.50,179.74 L542.00,178.78 L543.50,177.80 L545.00,176.80 L546.50,175.79 L548.00,174.74 L549.50,173.66 L551.00,172.56 L552.50,171.42 L554.00,170.27 L555.50,169.11 L557.00,167.94 L558.50,166.78 L560.00,165.62 L561.50,164.49 L563.00,163.40 L564.50,162.37 L566.00,161.42 L567.50,160.56 L569.00,159.78 L570.50,159.08 L572.00,158.47 L573.50,157.94 L575.00,157.49 L576.50,157.11 L578.00,156.80 L579.50,156.57 L581.00,156.40 L582.50,156.30 L584.00,156.27 L585.50,156.29 L587.00,156.36 L588.50,156.48 L590.00,156.64 L591.50,156.85 L593.00,157.08 L594.50,157.35 L596.00,157.64 L597.50,157.95 L599.00,158.28 L600.50,158.63 L602.00,158.98 L603.50,159.34 L605.00,159.70 L606.50,160.06 L608.00,160.42 L609.50,160.77 L611.00,161.11 L612.50,161.43 L614.00,161.74 L615.50,162.02 L617.00,162.29 L618.50,162.54 L620.00,162.77 L621.50,162.96 L623.00,163.14 L624.50,163.28 L626.00,163.39 L627.50,163.47 L629.00,163.53 L630.50,163.55 L632.00,163.56 L633.50,163.53 L635.00,163.49 L636.50,163.42 L638.00,163.33 L639.50,163.21 L641.00,163.07 L642.50,162.91 L644.00,162.72 L645.50,162.50 L647.00,162.26 L648.50,162.00 L650.00,161.71 L651.50,161.40 L653.00,161.08 L654.50,160.73 L656.00,160.37 L657.50,159.99 L659.00,159.60 L660.50,159.19 L662.00,158.78 L663.50,158.35 L665.00,157.92 L666.50,157.49 L668.00,157.06 L669.50,156.62 L671.00,156.18 L672.50,155.74 L674.00,155.30 L675.50,154.86 L677.00,154.42 L677.00,185.31 L675.50,185.18 L674.00,185.05 L672.50,184.93 L671.00,184.80 L669.50,184.69 L668.00,184.58 L666.50,184.47 L665.00,184.38 L663.50,184.30 L662.00,184.23 L660.50,184.16 L659.00,184.11 L657.50,184.06 L656.00,184.01 L654.50,183.98 L653.00,183.95 L651.50,183.92 L650.00,183.89 L648.50,183.85 L647.00,183.81 L645.50,183.75 L644.00,183.68 L642.50,183.59 L641.00,183.47 L639.50,183.34 L638.00,183.18 L636.50,183.00 L635.00,182.80 L633.50,182.57 L632.00,182.31 L630.50,182.02 L629.00,181.72 L627.50,181.40 L626.00,181.06 L624.50,180.73 L623.00,180.38 L621.50,180.04 L620.00,179.69 L618.50,179.33 L617.00,178.98 L615.50,178.61 L614.00,178.25 L612.50,177.88 L611.00,177.50 L609.50,177.12 L608.00,176.74 L606.50,176.36 L605.00,175.98 L603.50,175.61 L602.00,175.25 L600.50,174.91 L599.00,174.59 L597.50,174.29 L596.00,174.02 L594.50,173.78 L593.00,173.57 L591.50,173.39 L590.00,173.25 L588.50,173.14 L587.00,173.08 L585.50,173.05 L584.00,173.07 L582.50,173.13 L581.00,173.23 L579.50,173.38 L578.00,173.57 L576.50,173.82 L575.00,174.13 L573.50,174.49 L572.00,174.92 L570.50,175.41 L569.00,175.97 L567.50,176.61 L566.00,177.33 L564.50,178.13 L563.00,179.03 L561.50,180.01 L560.00,181.09 L558.50,182.26 L557.00,183.52 L555.50,184.87 L554.00,186.30 L552.50,187.79 L551.00,189.34 L549.50,190.93 L548.00,192.57 L546.50,194.23 L545.00,195.91 L543.50,197.60 L542.00,199.30 L540.50,201.01 L539.00,202.72 L537.50,204.44 L536.00,206.17 L534.50,207.91 L533.00,209.66 L531.50,211.41 L530.00,213.17 L528.50,214.94 L527.00,216.72 L525.50,218.50 L524.00,220.28 L522.50,222.07 L521.00,223.86 L519.50,225.65 Z" fill="rgb(189,65,67)" fill-opacity="0.5"/>
<line x1="519.10" y1="181.40" x2="685.00" y2="181.40" stroke="#333333" stroke-width="1.3" stroke-dasharray="3.95 3.31"/>
<path d="M519.50,209.57 L521.00,207.96 L522.50,206.35 L524.00,204.74 L525.50,203.14 L527.00,201.54 L528.50,199.95 L530.00,198.36 L531.50,196.78 L533.00,195.21 L534.50,193.65 L536.00,192.11 L537.50,190.59 L539.00,189.10 L540.50,187.63 L542.00,186.20 L543.50,184.81 L545.00,183.45 L546.50,182.15 L548.00,180.89 L549.50,179.69 L551.00,178.53 L552.50,177.41 L554.00,176.32 L555.50,175.28 L557.00,174.26 L558.50,173.27 L560.00,172.31 L561.50,171.38 L563.00,170.50 L564.50,169.66 L566.00,168.88 L567.50,168.15 L569.00,167.49 L570.50,166.90 L572.00,166.38 L573.50,165.94 L575.00,165.56 L576.50,165.25 L578.00,165.00 L579.50,164.82 L581.00,164.69 L582.50,164.63 L584.00,164.61 L585.50,164.65 L587.00,164.74 L588.50,164.86 L590.00,165.03 L591.50,165.23 L593.00,165.45 L594.50,165.71 L596.00,165.99 L597.50,166.28 L599.00,166.59 L600.50,166.92 L602.00,167.26 L603.50,167.61 L605.00,167.96 L606.50,168.33 L608.00,168.69 L609.50,169.06 L611.00,169.43 L612.50,169.79 L614.00,170.15 L615.50,170.50 L617.00,170.84 L618.50,171.17 L620.00,171.48 L621.50,171.78 L623.00,172.06 L624.50,172.32 L626.00,172.56 L627.50,172.78 L629.00,172.97 L630.50,173.13 L632.00,173.28 L633.50,173.39 L635.00,173.48 L636.50,173.55 L638.00,173.59 L639.50,173.61 L641.00,173.60 L642.50,173.57 L644.00,173.52 L645.50,173.44 L647.00,173.34 L648.50,173.23 L650.00,173.10 L651.50,172.95 L653.00,172.80 L654.50,172.64 L656.00,172.47 L657.50,172.30 L659.00,172.13 L660.50,171.95 L662.00,171.77 L663.50,171.58 L665.00,171.39 L666.50,171.20 L668.00,171.01 L669.50,170.82 L671.00,170.62 L672.50,170.42 L674.00,170.22 L675.50,170.02 L677.00,169.82" fill="none" stroke="#cc3333" stroke-width="1.15"/>
<line x1="515.10" y1="153.30" x2="519.50" y2="153.30" stroke="#4d4d4d" stroke-width="0.85"/>
<text transform="matrix(1.0667,0,0,1,483.35,156.70)" font-size="10.1">1.002</text>
<line x1="515.10" y1="181.50" x2="519.50" y2="181.50" stroke="#4d4d4d" stroke-width="0.85"/>
<text transform="matrix(1.1162,0,0,1,482.01,184.90)" font-size="10.1">1.000</text>
<line x1="515.10" y1="208.80" x2="519.50" y2="208.80" stroke="#4d4d4d" stroke-width="0.85"/>
<text transform="matrix(1.1224,0,0,1,481.85,212.20)" font-size="10.1">0.998</text>
<line x1="519.50" y1="230.30" x2="519.50" y2="234.50" stroke="#4d4d4d" stroke-width="0.85"/>
<text transform="matrix(1.2292,0,0,1,516.06,247.10)" font-size="10.1">0</text>
<line x1="542.00" y1="230.30" x2="542.00" y2="234.50" stroke="#4d4d4d" stroke-width="0.85"/>
<text transform="matrix(1.1154,0,0,1,535.75,247.10)" font-size="10.1">30</text>
<line x1="564.50" y1="230.30" x2="564.50" y2="234.50" stroke="#4d4d4d" stroke-width="0.85"/>
<text transform="matrix(1.1650,0,0,1,557.92,247.10)" font-size="10.1">60</text>
<line x1="587.00" y1="230.30" x2="587.00" y2="234.50" stroke="#4d4d4d" stroke-width="0.85"/>
<text transform="matrix(1.1650,0,0,1,580.42,247.10)" font-size="10.1">90</text>
<line x1="609.50" y1="230.30" x2="609.50" y2="234.50" stroke="#4d4d4d" stroke-width="0.85"/>
<text transform="matrix(0.9808,0,0,1,601.07,247.10)" font-size="10.1">120</text>
<line x1="632.00" y1="230.30" x2="632.00" y2="234.50" stroke="#4d4d4d" stroke-width="0.85"/>
<text transform="matrix(1.0256,0,0,1,623.18,247.10)" font-size="10.1">150</text>
<line x1="654.50" y1="230.30" x2="654.50" y2="234.50" stroke="#4d4d4d" stroke-width="0.85"/>
<text transform="matrix(1.0128,0,0,1,645.79,247.10)" font-size="10.1">180</text>
<line x1="677.00" y1="230.30" x2="677.00" y2="234.50" stroke="#4d4d4d" stroke-width="0.85"/>
<text transform="matrix(0.9748,0,0,1,668.76,247.10)" font-size="10.1">210</text>
<text transform="matrix(1.1433,0,0,1,582.92,145.40)" font-size="11.0">Mental</text>
<text transform="matrix(1.0995,0,0,1,579.91,264.50)" font-size="11.0">Lag day</text>
<path d="M60.50,291.10 V371.00 H226.00" fill="none" stroke="#4d4d4d" stroke-width="0.85"/>
<path d="M60.50,295.59 L62.00,296.56 L63.50,297.53 L65.00,298.49 L66.50,299.44 L68.00,300.38 L69.50,301.31 L71.00,302.21 L72.50,303.10 L74.00,303.96 L75.50,304.80 L77.00,305.61 L78.50,306.40 L80.00,307.16 L81.50,307.89 L83.00,308.60 L84.50,309.28 L86.00,309.93 L87.50,310.55 L89.00,311.15 L90.50,311.72 L92.00,312.27 L93.50,312.80 L95.00,313.30 L96.50,313.78 L98.00,314.24 L99.50,314.69 L101.00,315.12 L102.50,315.53 L104.00,315.93 L105.50,316.32 L107.00,316.70 L108.50,317.08 L110.00,317.44 L111.50,317.80 L113.00,318.16 L114.50,318.52 L116.00,318.87 L117.50,319.22 L119.00,319.57 L120.50,319.92 L122.00,320.27 L123.50,320.62 L125.00,320.96 L126.50,321.29 L128.00,321.62 L129.50,321.95 L131.00,322.26 L132.50,322.57 L134.00,322.86 L135.50,323.14 L137.00,323.41 L138.50,323.66 L140.00,323.90 L141.50,324.11 L143.00,324.31 L144.50,324.50 L146.00,324.67 L147.50,324.84 L149.00,325.00 L150.50,325.17 L152.00,325.33 L153.50,325.50 L155.00,325.68 L156.50,325.87 L158.00,326.06 L159.50,326.28 L161.00,326.50 L162.50,326.75 L164.00,327.02 L165.50,327.30 L167.00,327.60 L168.50,327.91 L170.00,328.24 L171.50,328.57 L173.00,328.92 L174.50,329.28 L176.00,329.64 L177.50,330.01 L179.00,330.38 L180.50,330.74 L182.00,331.09 L183.50,331.44 L185.00,331.77 L186.50,332.08 L188.00,332.38 L189.50,332.65 L191.00,332.90 L192.50,333.13 L194.00,333.34 L195.50,333.52 L197.00,333.67 L198.50,333.79 L200.00,333.88 L201.50,333.95 L203.00,334.00 L204.50,334.02 L206.00,334.02 L207.50,334.00 L209.00,333.96 L210.50,333.91 L212.00,333.84 L213.50,333.75 L215.00,333.67 L216.50,333.57 L218.00,333.47 L218.00,366.41 L216.50,365.64 L215.00,364.86 L213.50,364.10 L212.00,363.34 L210.50,362.60 L209.00,361.87 L207.50,361.16 L206.00,360.47 L204.50,359.81 L203.00,359.16 L201.50,358.54 L200.00,357.94 L198.50,357.36 L197.00,356.81 L195.50,356.28 L194.00,355.78 L192.50,355.30 L191.00,354.85 L189.50,354.41 L188.00,354.00 L186.50,353.61 L185.00,353.23 L183.50,352.88 L182.00,352.54 L180.50,352.22 L179.00,351.91 L177.50,351.61 L176.00,351.32 L174.50,351.04 L173.00,350.77 L171.50,350.50 L170.00,350.24 L168.50,349.98 L167.00,349.73 L165.50,349.48 L164.00,349.24 L162.50,349.01 L161.00,348.78 L159.50,348.56 L158.00,348.35 L156.50,348.14 L155.00,347.94 L153.50,347.75 L152.00,347.57 L150.50,347.40 L149.00,347.24 L147.50,347.08 L146.00,346.94 L144.50,346.79 L143.00,346.66 L141.50,346.52 L140.00,346.39 L138.50,346.26 L137.00,346.13 L135.50,345.99 L134.00,345.86 L132.50,345.73 L131.00,345.59 L129.50,345.45 L128.00,345.31 L126.50,345.17 L125.00,345.02 L123.50,344.86 L122.00,344.69 L120.50,344.50 L119.00,344.31 L117.50,344.09 L116.00,343.85 L114.50,343.60 L113.00,343.32 L111.50,343.02 L110.00,342.70 L108.50,342.35 L107.00,341.98 L105.50,341.59 L104.00,341.18 L102.50,340.74 L101.00,340.28 L99.50,339.81 L98.00,339.31 L96.50,338.80 L95.00,338.28 L93.50,337.74 L92.00,337.18 L90.50,336.63 L89.00,336.07 L87.50,335.51 L86.00,334.96 L84.50,334.42 L83.00,333.90 L81.50,333.40 L80.00,332.92 L78.50,332.46 L77.00,332.03 L75.50,331.62 L74.00,331.24 L72.50,330.89 L71.00,330.57 L69.50,330.27 L68.00,330.00 L66.50,329.74 L65.00,329.51 L63.50,329.28 L62.00,329.07 L60.50,328.85 Z" fill="rgb(189,65,67)" fill-opacity="0.5"/>
<line x1="60.10" y1="365.50" x2="226.00" y2="365.50" stroke="#333333" stroke-width="1.3" stroke-dasharray="3.95 3.31"/>
<path d="M60.50,312.31 L62.00,312.91 L63.50,313.51 L65.00,314.10 L66.50,314.70 L68.00,315.30 L69.50,315.89 L71.00,316.49 L72.50,317.08 L74.00,317.68 L75.50,318.27 L77.00,318.86 L78.50,319.45 L80.00,320.05 L81.50,320.64 L83.00,321.22 L84.50,321.81 L86.00,322.40 L87.50,322.98 L89.00,323.56 L90.50,324.12 L92.00,324.68 L93.50,325.23 L95.00,325.76 L96.50,326.27 L98.00,326.78 L99.50,327.26 L101.00,327.73 L102.50,328.18 L104.00,328.62 L105.50,329.04 L107.00,329.45 L108.50,329.84 L110.00,330.21 L111.50,330.57 L113.00,330.91 L114.50,331.24 L116.00,331.56 L117.50,331.87 L119.00,332.16 L120.50,332.45 L122.00,332.72 L123.50,332.98 L125.00,333.24 L126.50,333.48 L128.00,333.72 L129.50,333.94 L131.00,334.16 L132.50,334.38 L134.00,334.58 L135.50,334.78 L137.00,334.96 L138.50,335.15 L140.00,335.32 L141.50,335.49 L143.00,335.65 L144.50,335.81 L146.00,335.96 L147.50,336.11 L149.00,336.27 L150.50,336.42 L152.00,336.58 L153.50,336.75 L155.00,336.92 L156.50,337.10 L158.00,337.29 L159.50,337.49 L161.00,337.71 L162.50,337.93 L164.00,338.17 L165.50,338.42 L167.00,338.69 L168.50,338.97 L170.00,339.25 L171.50,339.55 L173.00,339.86 L174.50,340.18 L176.00,340.51 L177.50,340.84 L179.00,341.18 L180.50,341.52 L182.00,341.86 L183.50,342.21 L185.00,342.55 L186.50,342.89 L188.00,343.23 L189.50,343.56 L191.00,343.90 L192.50,344.23 L194.00,344.57 L195.50,344.91 L197.00,345.24 L198.50,345.58 L200.00,345.92 L201.50,346.26 L203.00,346.60 L204.50,346.95 L206.00,347.30 L207.50,347.65 L209.00,348.00 L210.50,348.36 L212.00,348.72 L213.50,349.08 L215.00,349.44 L216.50,349.81 L218.00,350.17" fill="none" stroke="#cc3333" stroke-width="1.15"/>
<line x1="56.10" y1="295.00" x2="60.50" y2="295.00" stroke="#4d4d4d" stroke-width="0.85"/>
<text transform="matrix(1.0747,0,0,1,24.04,298.40)" font-size="10.1">1.005</text>
<line x1="56.10" y1="309.10" x2="60.50" y2="309.10" stroke="#4d4d4d" stroke-width="0.85"/>
<text transform="matrix(1.0702,0,0,1,24.04,312.50)" font-size="10.1">1.004</text>
<line x1="56.10" y1="323.30" x2="60.50" y2="323.30" stroke="#4d4d4d" stroke-width="0.85"/>
<text transform="matrix(1.0830,0,0,1,23.83,326.70)" font-size="10.1">1.003</text>
<line x1="56.10" y1="337.40" x2="60.50" y2="337.40" stroke="#4d4d4d" stroke-width="0.85"/>
<text transform="matrix(1.0667,0,0,1,24.35,340.80)" font-size="10.1">1.002</text>
<line x1="56.10" y1="351.40" x2="60.50" y2="351.40" stroke="#4d4d4d" stroke-width="0.85"/>
<text transform="matrix(0.9958,0,0,1,26.10,354.80)" font-size="10.1">1.001</text>
<line x1="56.10" y1="365.40" x2="60.50" y2="365.40" stroke="#4d4d4d" stroke-width="0.85"/>
<text transform="matrix(1.1162,0,0,1,23.01,368.80)" font-size="10.1">1.000</text>
<line x1="60.50" y1="371.00" x2="60.50" y2="375.20" stroke="#4d4d4d" stroke-width="0.85"/>
<text transform="matrix(1.2292,0,0,1,57.06,387.80)" font-size="10.1">0</text>
<line x1="83.00" y1="371.00" x2="83.00" y2="375.20" stroke="#4d4d4d" stroke-width="0.85"/>
<text transform="matrix(1.1154,0,0,1,76.75,387.80)" font-size="10.1">30</text>
<line x1="105.50" y1="371.00" x2="105.50" y2="375.20" stroke="#4d4d4d" stroke-width="0.85"/>
<text transform="matrix(1.1650,0,0,1,98.92,387.80)" font-size="10.1">60</text>
<line x1="128.00" y1="371.00" x2="128.00" y2="375.20" stroke="#4d4d4d" stroke-width="0.85"/>
<text transform="matrix(1.1650,0,0,1,121.42,387.80)" font-size="10.1">90</text>
<line x1="150.50" y1="371.00" x2="150.50" y2="375.20" stroke="#4d4d4d" stroke-width="0.85"/>
<text transform="matrix(0.9808,0,0,1,142.07,387.80)" font-size="10.1">120</text>
<line x1="173.00" y1="371.00" x2="173.00" y2="375.20" stroke="#4d4d4d" stroke-width="0.85"/>
<text transform="matrix(1.0256,0,0,1,164.18,387.80)" font-size="10.1">150</text>
<line x1="195.50" y1="371.00" x2="195.50" y2="375.20" stroke="#4d4d4d" stroke-width="0.85"/>
<text transform="matrix(1.0128,0,0,1,186.79,387.80)" font-size="10.1">180</text>
<line x1="218.00" y1="371.00" x2="218.00" y2="375.20" stroke="#4d4d4d" stroke-width="0.85"/>
<text transform="matrix(0.9748,0,0,1,209.76,387.80)" font-size="10.1">210</text>
<text transform="matrix(1.1164,0,0,1,118.70,286.30)" font-size="11.0">Diabetes</text>
<text transform="matrix(1.0995,0,0,1,117.31,405.80)" font-size="11.0">Lag day</text>
<path d="M289.50,291.10 V371.00 H455.00" fill="none" stroke="#4d4d4d" stroke-width="0.85"/>
<path d="M289.50,300.35 L291.00,300.67 L292.50,300.98 L294.00,301.29 L295.50,301.59 L297.00,301.89 L298.50,302.17 L300.00,302.43 L301.50,302.68 L303.00,302.91 L304.50,303.11 L306.00,303.30 L307.50,303.47 L309.00,303.61 L310.50,303.74 L312.00,303.84 L313.50,303.91 L315.00,303.97 L316.50,304.00 L318.00,304.01 L319.50,304.00 L321.00,303.96 L322.50,303.91 L324.00,303.84 L325.50,303.75 L327.00,303.64 L328.50,303.52 L330.00,303.38 L331.50,303.22 L333.00,303.05 L334.50,302.86 L336.00,302.66 L337.50,302.45 L339.00,302.23 L340.50,301.99 L342.00,301.74 L343.50,301.47 L345.00,301.20 L346.50,300.90 L348.00,300.60 L349.50,300.28 L351.00,299.96 L352.50,299.63 L354.00,299.30 L355.50,298.96 L357.00,298.63 L358.50,298.29 L360.00,297.97 L361.50,297.64 L363.00,297.33 L364.50,297.03 L366.00,296.74 L367.50,296.46 L369.00,296.20 L370.50,295.95 L372.00,295.73 L373.50,295.53 L375.00,295.35 L376.50,295.21 L378.00,295.11 L379.50,295.04 L381.00,295.01 L382.50,295.03 L384.00,295.10 L385.50,295.21 L387.00,295.38 L388.50,295.61 L390.00,295.89 L391.50,296.23 L393.00,296.64 L394.50,297.12 L396.00,297.66 L397.50,298.28 L399.00,298.96 L400.50,299.70 L402.00,300.50 L403.50,301.36 L405.00,302.28 L406.50,303.24 L408.00,304.26 L409.50,305.32 L411.00,306.41 L412.50,307.55 L414.00,308.71 L415.50,309.90 L417.00,311.10 L418.50,312.32 L420.00,313.55 L421.50,314.79 L423.00,316.02 L424.50,317.26 L426.00,318.51 L427.50,319.76 L429.00,321.01 L430.50,322.26 L432.00,323.52 L433.50,324.78 L435.00,326.04 L436.50,327.30 L438.00,328.57 L439.50,329.84 L441.00,331.10 L442.50,332.37 L444.00,333.64 L445.50,334.91 L447.00,336.18 L447.00,366.72 L445.50,364.76 L444.00,362.80 L442.50,360.87 L441.00,358.95 L439.50,357.06 L438.00,355.20 L436.50,353.36 L435.00,351.56 L433.50,349.79 L432.00,348.05 L430.50,346.35 L429.00,344.69 L427.50,343.07 L426.00,341.49 L424.50,339.96 L423.00,338.47 L421.50,337.03 L420.00,335.65 L418.50,334.32 L417.00,333.05 L415.50,331.84 L414.00,330.69 L412.50,329.60 L411.00,328.56 L409.50,327.58 L408.00,326.65 L406.50,325.78 L405.00,324.96 L403.50,324.19 L402.00,323.49 L400.50,322.83 L399.00,322.24 L397.50,321.70 L396.00,321.22 L394.50,320.79 L393.00,320.42 L391.50,320.09 L390.00,319.81 L388.50,319.57 L387.00,319.37 L385.50,319.20 L384.00,319.06 L382.50,318.95 L381.00,318.88 L379.50,318.83 L378.00,318.81 L376.50,318.82 L375.00,318.85 L373.50,318.91 L372.00,319.00 L370.50,319.12 L369.00,319.26 L367.50,319.44 L366.00,319.63 L364.50,319.86 L363.00,320.10 L361.50,320.37 L360.00,320.66 L358.50,320.98 L357.00,321.31 L355.50,321.66 L354.00,322.02 L352.50,322.39 L351.00,322.77 L349.50,323.15 L348.00,323.53 L346.50,323.90 L345.00,324.25 L343.50,324.59 L342.00,324.92 L340.50,325.22 L339.00,325.51 L337.50,325.79 L336.00,326.04 L334.50,326.27 L333.00,326.48 L331.50,326.68 L330.00,326.85 L328.50,327.01 L327.00,327.15 L325.50,327.28 L324.00,327.39 L322.50,327.49 L321.00,327.58 L319.50,327.66 L318.00,327.74 L316.50,327.81 L315.00,327.88 L313.50,327.95 L312.00,328.02 L310.50,328.10 L309.00,328.18 L307.50,328.27 L306.00,328.37 L304.50,328.48 L303.00,328.60 L301.50,328.74 L300.00,328.90 L298.50,329.06 L297.00,329.25 L295.50,329.44 L294.00,329.64 L292.50,329.85 L291.00,330.06 L289.50,330.27 Z" fill="rgb(189,65,67)" fill-opacity="0.5"/>
<line x1="289.10" y1="347.60" x2="455.00" y2="347.60" stroke="#333333" stroke-width="1.3" stroke-dasharray="3.95 3.31"/>
<path d="M289.50,315.51 L291.00,315.59 L292.50,315.66 L294.00,315.73 L295.50,315.80 L297.00,315.87 L298.50,315.94 L300.00,316.01 L301.50,316.07 L303.00,316.14 L304.50,316.20 L306.00,316.26 L307.50,316.31 L309.00,316.35 L310.50,316.39 L312.00,316.41 L313.50,316.43 L315.00,316.43 L316.50,316.41 L318.00,316.38 L319.50,316.34 L321.00,316.27 L322.50,316.19 L324.00,316.08 L325.50,315.95 L327.00,315.80 L328.50,315.63 L330.00,315.44 L331.50,315.23 L333.00,315.00 L334.50,314.76 L336.00,314.50 L337.50,314.23 L339.00,313.94 L340.50,313.64 L342.00,313.33 L343.50,313.00 L345.00,312.66 L346.50,312.30 L348.00,311.93 L349.50,311.56 L351.00,311.17 L352.50,310.79 L354.00,310.41 L355.50,310.04 L357.00,309.67 L358.50,309.32 L360.00,308.98 L361.50,308.66 L363.00,308.36 L364.50,308.07 L366.00,307.80 L367.50,307.55 L369.00,307.31 L370.50,307.10 L372.00,306.91 L373.50,306.75 L375.00,306.61 L376.50,306.50 L378.00,306.43 L379.50,306.39 L381.00,306.38 L382.50,306.41 L384.00,306.48 L385.50,306.59 L387.00,306.74 L388.50,306.93 L390.00,307.16 L391.50,307.44 L393.00,307.76 L394.50,308.13 L396.00,308.55 L397.50,309.02 L399.00,309.55 L400.50,310.14 L402.00,310.79 L403.50,311.50 L405.00,312.28 L406.50,313.14 L408.00,314.07 L409.50,315.08 L411.00,316.16 L412.50,317.31 L414.00,318.52 L415.50,319.80 L417.00,321.14 L418.50,322.54 L420.00,323.99 L421.50,325.49 L423.00,327.02 L424.50,328.59 L426.00,330.17 L427.50,331.76 L429.00,333.36 L430.50,334.96 L432.00,336.54 L433.50,338.10 L435.00,339.66 L436.50,341.20 L438.00,342.73 L439.50,344.24 L441.00,345.74 L442.50,347.24 L444.00,348.71 L445.50,350.18 L447.00,351.65" fill="none" stroke="#cc3333" stroke-width="1.15"/>
<line x1="285.10" y1="304.80" x2="289.50" y2="304.80" stroke="#4d4d4d" stroke-width="0.85"/>
<text transform="matrix(1.0667,0,0,1,253.35,308.20)" font-size="10.1">1.002</text>
<line x1="285.10" y1="326.00" x2="289.50" y2="326.00" stroke="#4d4d4d" stroke-width="0.85"/>
<text transform="matrix(0.9958,0,0,1,255.10,329.40)" font-size="10.1">1.001</text>
<line x1="285.10" y1="347.30" x2="289.50" y2="347.30" stroke="#4d4d4d" stroke-width="0.85"/>
<text transform="matrix(1.1162,0,0,1,252.01,350.70)" font-size="10.1">1.000</text>
<line x1="285.10" y1="368.60" x2="289.50" y2="368.60" stroke="#4d4d4d" stroke-width="0.85"/>
<text transform="matrix(1.1107,0,0,1,252.26,372.00)" font-size="10.1">0.999</text>
<line x1="289.50" y1="371.00" x2="289.50" y2="375.20" stroke="#4d4d4d" stroke-width="0.85"/>
<text transform="matrix(1.2292,0,0,1,286.06,387.80)" font-size="10.1">0</text>
<line x1="312.00" y1="371.00" x2="312.00" y2="375.20" stroke="#4d4d4d" stroke-width="0.85"/>
<text transform="matrix(1.1154,0,0,1,305.75,387.80)" font-size="10.1">30</text>
<line x1="334.50" y1="371.00" x2="334.50" y2="375.20" stroke="#4d4d4d" stroke-width="0.85"/>
<text transform="matrix(1.1650,0,0,1,327.92,387.80)" font-size="10.1">60</text>
<line x1="357.00" y1="371.00" x2="357.00" y2="375.20" stroke="#4d4d4d" stroke-width="0.85"/>
<text transform="matrix(1.1650,0,0,1,350.42,387.80)" font-size="10.1">90</text>
<line x1="379.50" y1="371.00" x2="379.50" y2="375.20" stroke="#4d4d4d" stroke-width="0.85"/>
<text transform="matrix(0.9808,0,0,1,371.07,387.80)" font-size="10.1">120</text>
<line x1="402.00" y1="371.00" x2="402.00" y2="375.20" stroke="#4d4d4d" stroke-width="0.85"/>
<text transform="matrix(1.0256,0,0,1,393.18,387.80)" font-size="10.1">150</text>
<line x1="424.50" y1="371.00" x2="424.50" y2="375.20" stroke="#4d4d4d" stroke-width="0.85"/>
<text transform="matrix(1.0128,0,0,1,415.79,387.80)" font-size="10.1">180</text>
<line x1="447.00" y1="371.00" x2="447.00" y2="375.20" stroke="#4d4d4d" stroke-width="0.85"/>
<text transform="matrix(0.9748,0,0,1,438.76,387.80)" font-size="10.1">210</text>
<text transform="matrix(1.1429,0,0,1,356.76,286.30)" font-size="11.0">Injury</text>
<text transform="matrix(1.0995,0,0,1,338.91,405.80)" font-size="11.0">Lag day</text>
<path d="M519.50,291.10 V371.00 H685.00" fill="none" stroke="#4d4d4d" stroke-width="0.85"/>
<path d="M519.50,294.92 L521.00,295.54 L522.50,296.17 L524.00,296.78 L525.50,297.39 L527.00,297.98 L528.50,298.55 L530.00,299.11 L531.50,299.63 L533.00,300.14 L534.50,300.61 L536.00,301.06 L537.50,301.47 L539.00,301.85 L540.50,302.20 L542.00,302.51 L543.50,302.79 L545.00,303.03 L546.50,303.24 L548.00,303.42 L549.50,303.58 L551.00,303.72 L552.50,303.84 L554.00,303.95 L555.50,304.05 L557.00,304.14 L558.50,304.22 L560.00,304.30 L561.50,304.38 L563.00,304.47 L564.50,304.57 L566.00,304.67 L567.50,304.79 L569.00,304.92 L570.50,305.07 L572.00,305.22 L573.50,305.39 L575.00,305.58 L576.50,305.78 L578.00,305.99 L579.50,306.22 L581.00,306.45 L582.50,306.69 L584.00,306.94 L585.50,307.19 L587.00,307.44 L588.50,307.69 L590.00,307.93 L591.50,308.18 L593.00,308.42 L594.50,308.67 L596.00,308.91 L597.50,309.15 L599.00,309.39 L600.50,309.64 L602.00,309.88 L603.50,310.13 L605.00,310.38 L606.50,310.64 L608.00,310.91 L609.50,311.18 L611.00,311.46 L612.50,311.75 L614.00,312.05 L615.50,312.35 L617.00,312.66 L618.50,312.98 L620.00,313.31 L621.50,313.64 L623.00,313.98 L624.50,314.33 L626.00,314.69 L627.50,315.05 L629.00,315.42 L630.50,315.80 L632.00,316.18 L633.50,316.57 L635.00,316.97 L636.50,317.38 L638.00,317.78 L639.50,318.18 L641.00,318.57 L642.50,318.96 L644.00,319.33 L645.50,319.69 L647.00,320.04 L648.50,320.37 L650.00,320.68 L651.50,320.97 L653.00,321.24 L654.50,321.48 L656.00,321.70 L657.50,321.89 L659.00,322.06 L660.50,322.20 L662.00,322.32 L663.50,322.41 L665.00,322.47 L666.50,322.51 L668.00,322.53 L669.50,322.52 L671.00,322.50 L672.50,322.46 L674.00,322.42 L675.50,322.37 L677.00,322.31 L677.00,366.43 L675.50,365.39 L674.00,364.35 L672.50,363.33 L671.00,362.32 L669.50,361.33 L668.00,360.38 L666.50,359.45 L665.00,358.55 L663.50,357.69 L662.00,356.85 L660.50,356.05 L659.00,355.28 L657.50,354.54 L656.00,353.83 L654.50,353.16 L653.00,352.51 L651.50,351.89 L650.00,351.31 L648.50,350.75 L647.00,350.22 L645.50,349.71 L644.00,349.23 L642.50,348.78 L641.00,348.34 L639.50,347.93 L638.00,347.54 L636.50,347.16 L635.00,346.80 L633.50,346.46 L632.00,346.12 L630.50,345.79 L629.00,345.48 L627.50,345.16 L626.00,344.85 L624.50,344.54 L623.00,344.22 L621.50,343.91 L620.00,343.59 L618.50,343.27 L617.00,342.95 L615.50,342.63 L614.00,342.31 L612.50,341.99 L611.00,341.67 L609.50,341.35 L608.00,341.02 L606.50,340.70 L605.00,340.39 L603.50,340.08 L602.00,339.78 L600.50,339.50 L599.00,339.23 L597.50,338.98 L596.00,338.75 L594.50,338.54 L593.00,338.34 L591.50,338.16 L590.00,337.99 L588.50,337.84 L587.00,337.69 L585.50,337.55 L584.00,337.42 L582.50,337.29 L581.00,337.16 L579.50,337.04 L578.00,336.91 L576.50,336.78 L575.00,336.65 L573.50,336.51 L572.00,336.37 L570.50,336.23 L569.00,336.09 L567.50,335.94 L566.00,335.80 L564.50,335.66 L563.00,335.53 L561.50,335.40 L560.00,335.28 L558.50,335.17 L557.00,335.06 L555.50,334.98 L554.00,334.90 L552.50,334.84 L551.00,334.81 L549.50,334.79 L548.00,334.79 L546.50,334.82 L545.00,334.88 L543.50,334.97 L542.00,335.08 L540.50,335.24 L539.00,335.42 L537.50,335.63 L536.00,335.87 L534.50,336.14 L533.00,336.43 L531.50,336.74 L530.00,337.06 L528.50,337.40 L527.00,337.76 L525.50,338.13 L524.00,338.50 L522.50,338.88 L521.00,339.27 L519.50,339.66 Z" fill="rgb(189,65,67)" fill-opacity="0.5"/>
<line x1="519.10" y1="365.80" x2="685.00" y2="365.80" stroke="#333333" stroke-width="1.3" stroke-dasharray="3.95 3.31"/>
<path d="M519.50,317.18 L521.00,317.23 L522.50,317.27 L524.00,317.32 L525.50,317.36 L527.00,317.41 L528.50,317.46 L530.00,317.51 L531.50,317.57 L533.00,317.62 L534.50,317.68 L536.00,317.74 L537.50,317.81 L539.00,317.88 L540.50,317.95 L542.00,318.03 L543.50,318.11 L545.00,318.20 L546.50,318.29 L548.00,318.38 L549.50,318.48 L551.00,318.58 L552.50,318.69 L554.00,318.80 L555.50,318.92 L557.00,319.03 L558.50,319.15 L560.00,319.28 L561.50,319.40 L563.00,319.53 L564.50,319.67 L566.00,319.80 L567.50,319.94 L569.00,320.08 L570.50,320.23 L572.00,320.38 L573.50,320.53 L575.00,320.69 L576.50,320.86 L578.00,321.03 L579.50,321.20 L581.00,321.39 L582.50,321.58 L584.00,321.77 L585.50,321.98 L587.00,322.19 L588.50,322.41 L590.00,322.64 L591.50,322.88 L593.00,323.12 L594.50,323.37 L596.00,323.61 L597.50,323.86 L599.00,324.12 L600.50,324.37 L602.00,324.63 L603.50,324.89 L605.00,325.16 L606.50,325.43 L608.00,325.71 L609.50,326.00 L611.00,326.30 L612.50,326.61 L614.00,326.93 L615.50,327.25 L617.00,327.59 L618.50,327.93 L620.00,328.27 L621.50,328.63 L623.00,328.98 L624.50,329.35 L626.00,329.72 L627.50,330.10 L629.00,330.48 L630.50,330.87 L632.00,331.27 L633.50,331.67 L635.00,332.09 L636.50,332.50 L638.00,332.93 L639.50,333.35 L641.00,333.78 L642.50,334.22 L644.00,334.65 L645.50,335.09 L647.00,335.52 L648.50,335.96 L650.00,336.40 L651.50,336.85 L653.00,337.29 L654.50,337.74 L656.00,338.19 L657.50,338.65 L659.00,339.10 L660.50,339.56 L662.00,340.02 L663.50,340.48 L665.00,340.94 L666.50,341.40 L668.00,341.86 L669.50,342.31 L671.00,342.77 L672.50,343.23 L674.00,343.69 L675.50,344.15 L677.00,344.60" fill="none" stroke="#cc3333" stroke-width="1.15"/>
<line x1="515.10" y1="294.40" x2="519.50" y2="294.40" stroke="#4d4d4d" stroke-width="0.85"/>
<text transform="matrix(1.0505,0,0,1,477.76,297.80)" font-size="10.1">1.0025</text>
<line x1="515.10" y1="308.60" x2="519.50" y2="308.60" stroke="#4d4d4d" stroke-width="0.85"/>
<text transform="matrix(1.0741,0,0,1,477.04,312.00)" font-size="10.1">1.0020</text>
<line x1="515.10" y1="322.90" x2="519.50" y2="322.90" stroke="#4d4d4d" stroke-width="0.85"/>
<text transform="matrix(0.9966,0,0,1,479.40,326.30)" font-size="10.1">1.0015</text>
<line x1="515.10" y1="337.20" x2="519.50" y2="337.20" stroke="#4d4d4d" stroke-width="0.85"/>
<text transform="matrix(1.0067,0,0,1,479.09,340.60)" font-size="10.1">1.0010</text>
<line x1="515.10" y1="351.40" x2="519.50" y2="351.40" stroke="#4d4d4d" stroke-width="0.85"/>
<text transform="matrix(1.0943,0,0,1,476.42,354.80)" font-size="10.1">1.0005</text>
<line x1="515.10" y1="365.60" x2="519.50" y2="365.60" stroke="#4d4d4d" stroke-width="0.85"/>
<text transform="matrix(1.1246,0,0,1,475.50,369.00)" font-size="10.1">1.0000</text>
<line x1="519.50" y1="371.00" x2="519.50" y2="375.20" stroke="#4d4d4d" stroke-width="0.85"/>
<text transform="matrix(1.2292,0,0,1,516.06,387.80)" font-size="10.1">0</text>
<line x1="542.00" y1="371.00" x2="542.00" y2="375.20" stroke="#4d4d4d" stroke-width="0.85"/>
<text transform="matrix(1.1154,0,0,1,535.75,387.80)" font-size="10.1">30</text>
<line x1="564.50" y1="371.00" x2="564.50" y2="375.20" stroke="#4d4d4d" stroke-width="0.85"/>
<text transform="matrix(1.1650,0,0,1,557.92,387.80)" font-size="10.1">60</text>
<line x1="587.00" y1="371.00" x2="587.00" y2="375.20" stroke="#4d4d4d" stroke-width="0.85"/>
<text transform="matrix(1.1650,0,0,1,580.42,387.80)" font-size="10.1">90</text>
<line x1="609.50" y1="371.00" x2="609.50" y2="375.20" stroke="#4d4d4d" stroke-width="0.85"/>
<text transform="matrix(0.9808,0,0,1,601.07,387.80)" font-size="10.1">120</text>
<line x1="632.00" y1="371.00" x2="632.00" y2="375.20" stroke="#4d4d4d" stroke-width="0.85"/>
<text transform="matrix(1.0256,0,0,1,623.18,387.80)" font-size="10.1">150</text>
<line x1="654.50" y1="371.00" x2="654.50" y2="375.20" stroke="#4d4d4d" stroke-width="0.85"/>
<text transform="matrix(1.0128,0,0,1,645.79,387.80)" font-size="10.1">180</text>
<line x1="677.00" y1="371.00" x2="677.00" y2="375.20" stroke="#4d4d4d" stroke-width="0.85"/>
<text transform="matrix(0.9748,0,0,1,668.76,387.80)" font-size="10.1">210</text>
<text transform="matrix(1.0948,0,0,1,581.90,286.30)" font-size="11.0">Cancer</text>
<text transform="matrix(1.0995,0,0,1,579.91,405.80)" font-size="11.0">Lag day</text>
<path d="M60.50,429.80 V509.30 H226.00" fill="none" stroke="#4d4d4d" stroke-width="0.85"/>
<path d="M60.50,449.59 L62.00,449.46 L63.50,449.33 L65.00,449.20 L66.50,449.06 L68.00,448.90 L69.50,448.72 L71.00,448.52 L72.50,448.30 L74.00,448.04 L75.50,447.76 L77.00,447.45 L78.50,447.11 L80.00,446.76 L81.50,446.37 L83.00,445.97 L84.50,445.55 L86.00,445.11 L87.50,444.66 L89.00,444.19 L90.50,443.71 L92.00,443.23 L93.50,442.74 L95.00,442.24 L96.50,441.75 L98.00,441.25 L99.50,440.76 L101.00,440.28 L102.50,439.81 L104.00,439.34 L105.50,438.89 L107.00,438.45 L108.50,438.03 L110.00,437.62 L111.50,437.23 L113.00,436.86 L114.50,436.50 L116.00,436.17 L117.50,435.85 L119.00,435.56 L120.50,435.28 L122.00,435.03 L123.50,434.81 L125.00,434.60 L126.50,434.42 L128.00,434.26 L129.50,434.11 L131.00,433.99 L132.50,433.89 L134.00,433.81 L135.50,433.76 L137.00,433.72 L138.50,433.70 L140.00,433.70 L141.50,433.72 L143.00,433.76 L144.50,433.82 L146.00,433.90 L147.50,434.00 L149.00,434.13 L150.50,434.27 L152.00,434.44 L153.50,434.64 L155.00,434.87 L156.50,435.14 L158.00,435.47 L159.50,435.84 L161.00,436.28 L162.50,436.78 L164.00,437.35 L165.50,437.99 L167.00,438.70 L168.50,439.48 L170.00,440.33 L171.50,441.23 L173.00,442.18 L174.50,443.19 L176.00,444.24 L177.50,445.33 L179.00,446.45 L180.50,447.59 L182.00,448.75 L183.50,449.92 L185.00,451.09 L186.50,452.26 L188.00,453.43 L189.50,454.59 L191.00,455.74 L192.50,456.88 L194.00,457.99 L195.50,459.09 L197.00,460.16 L198.50,461.21 L200.00,462.23 L201.50,463.22 L203.00,464.20 L204.50,465.15 L206.00,466.08 L207.50,466.99 L209.00,467.88 L210.50,468.74 L212.00,469.59 L213.50,470.42 L215.00,471.24 L216.50,472.05 L218.00,472.85 L218.00,505.03 L216.50,503.37 L215.00,501.70 L213.50,500.04 L212.00,498.37 L210.50,496.70 L209.00,495.03 L207.50,493.36 L206.00,491.68 L204.50,490.01 L203.00,488.36 L201.50,486.73 L200.00,485.14 L198.50,483.59 L197.00,482.10 L195.50,480.67 L194.00,479.32 L192.50,478.03 L191.00,476.81 L189.50,475.65 L188.00,474.54 L186.50,473.48 L185.00,472.46 L183.50,471.48 L182.00,470.53 L180.50,469.61 L179.00,468.71 L177.50,467.84 L176.00,466.98 L174.50,466.15 L173.00,465.34 L171.50,464.54 L170.00,463.76 L168.50,463.01 L167.00,462.29 L165.50,461.60 L164.00,460.95 L162.50,460.35 L161.00,459.78 L159.50,459.25 L158.00,458.76 L156.50,458.30 L155.00,457.88 L153.50,457.50 L152.00,457.15 L150.50,456.84 L149.00,456.57 L147.50,456.34 L146.00,456.15 L144.50,455.99 L143.00,455.88 L141.50,455.80 L140.00,455.76 L138.50,455.75 L137.00,455.78 L135.50,455.85 L134.00,455.96 L132.50,456.10 L131.00,456.27 L129.50,456.48 L128.00,456.71 L126.50,456.98 L125.00,457.27 L123.50,457.59 L122.00,457.94 L120.50,458.30 L119.00,458.69 L117.50,459.09 L116.00,459.51 L114.50,459.94 L113.00,460.38 L111.50,460.82 L110.00,461.27 L108.50,461.73 L107.00,462.20 L105.50,462.68 L104.00,463.17 L102.50,463.68 L101.00,464.20 L99.50,464.74 L98.00,465.29 L96.50,465.87 L95.00,466.46 L93.50,467.09 L92.00,467.74 L90.50,468.43 L89.00,469.15 L87.50,469.91 L86.00,470.71 L84.50,471.55 L83.00,472.43 L81.50,473.35 L80.00,474.32 L78.50,475.32 L77.00,476.37 L75.50,477.45 L74.00,478.57 L72.50,479.73 L71.00,480.92 L69.50,482.15 L68.00,483.43 L66.50,484.75 L65.00,486.09 L63.50,487.46 L62.00,488.85 L60.50,490.24 Z" fill="rgb(189,65,67)" fill-opacity="0.5"/>
<line x1="60.10" y1="482.30" x2="226.00" y2="482.30" stroke="#333333" stroke-width="1.3" stroke-dasharray="3.95 3.31"/>
<path d="M60.50,470.45 L62.00,469.73 L63.50,469.01 L65.00,468.29 L66.50,467.57 L68.00,466.85 L69.50,466.13 L71.00,465.41 L72.50,464.69 L74.00,463.97 L75.50,463.25 L77.00,462.54 L78.50,461.82 L80.00,461.11 L81.50,460.40 L83.00,459.70 L84.50,459.01 L86.00,458.32 L87.50,457.64 L89.00,456.97 L90.50,456.31 L92.00,455.66 L93.50,455.02 L95.00,454.39 L96.50,453.78 L98.00,453.19 L99.50,452.61 L101.00,452.06 L102.50,451.52 L104.00,451.00 L105.50,450.50 L107.00,450.01 L108.50,449.55 L110.00,449.11 L111.50,448.69 L113.00,448.29 L114.50,447.91 L116.00,447.55 L117.50,447.20 L119.00,446.88 L120.50,446.56 L122.00,446.26 L123.50,445.98 L125.00,445.71 L126.50,445.46 L128.00,445.23 L129.50,445.02 L131.00,444.83 L132.50,444.67 L134.00,444.54 L135.50,444.43 L137.00,444.35 L138.50,444.30 L140.00,444.28 L141.50,444.30 L143.00,444.34 L144.50,444.42 L146.00,444.53 L147.50,444.67 L149.00,444.85 L150.50,445.06 L152.00,445.30 L153.50,445.59 L155.00,445.90 L156.50,446.26 L158.00,446.66 L159.50,447.10 L161.00,447.57 L162.50,448.09 L164.00,448.65 L165.50,449.25 L167.00,449.89 L168.50,450.58 L170.00,451.31 L171.50,452.08 L173.00,452.90 L174.50,453.77 L176.00,454.68 L177.50,455.63 L179.00,456.63 L180.50,457.68 L182.00,458.76 L183.50,459.89 L185.00,461.06 L186.50,462.26 L188.00,463.51 L189.50,464.78 L191.00,466.09 L192.50,467.41 L194.00,468.74 L195.50,470.08 L197.00,471.42 L198.50,472.76 L200.00,474.09 L201.50,475.41 L203.00,476.72 L204.50,478.03 L206.00,479.32 L207.50,480.61 L209.00,481.88 L210.50,483.14 L212.00,484.39 L213.50,485.63 L215.00,486.87 L216.50,488.10 L218.00,489.33" fill="none" stroke="#cc3333" stroke-width="1.15"/>
<line x1="56.10" y1="446.40" x2="60.50" y2="446.40" stroke="#4d4d4d" stroke-width="0.85"/>
<text transform="matrix(1.0667,0,0,1,24.35,449.80)" font-size="10.1">1.002</text>
<line x1="56.10" y1="464.50" x2="60.50" y2="464.50" stroke="#4d4d4d" stroke-width="0.85"/>
<text transform="matrix(0.9958,0,0,1,26.10,467.90)" font-size="10.1">1.001</text>
<line x1="56.10" y1="482.40" x2="60.50" y2="482.40" stroke="#4d4d4d" stroke-width="0.85"/>
<text transform="matrix(1.1162,0,0,1,23.01,485.80)" font-size="10.1">1.000</text>
<line x1="56.10" y1="500.40" x2="60.50" y2="500.40" stroke="#4d4d4d" stroke-width="0.85"/>
<text transform="matrix(1.1107,0,0,1,23.26,503.80)" font-size="10.1">0.999</text>
<line x1="60.50" y1="509.30" x2="60.50" y2="513.50" stroke="#4d4d4d" stroke-width="0.85"/>
<text transform="matrix(1.2292,0,0,1,57.06,526.10)" font-size="10.1">0</text>
<line x1="83.00" y1="509.30" x2="83.00" y2="513.50" stroke="#4d4d4d" stroke-width="0.85"/>
<text transform="matrix(1.1154,0,0,1,76.75,526.10)" font-size="10.1">30</text>
<line x1="105.50" y1="509.30" x2="105.50" y2="513.50" stroke="#4d4d4d" stroke-width="0.85"/>
<text transform="matrix(1.1650,0,0,1,98.92,526.10)" font-size="10.1">60</text>
<line x1="128.00" y1="509.30" x2="128.00" y2="513.50" stroke="#4d4d4d" stroke-width="0.85"/>
<text transform="matrix(1.1650,0,0,1,121.42,526.10)" font-size="10.1">90</text>
<line x1="150.50" y1="509.30" x2="150.50" y2="513.50" stroke="#4d4d4d" stroke-width="0.85"/>
<text transform="matrix(0.9808,0,0,1,142.07,526.10)" font-size="10.1">120</text>
<line x1="173.00" y1="509.30" x2="173.00" y2="513.50" stroke="#4d4d4d" stroke-width="0.85"/>
<text transform="matrix(1.0256,0,0,1,164.18,526.10)" font-size="10.1">150</text>
<line x1="195.50" y1="509.30" x2="195.50" y2="513.50" stroke="#4d4d4d" stroke-width="0.85"/>
<text transform="matrix(1.0128,0,0,1,186.79,526.10)" font-size="10.1">180</text>
<line x1="218.00" y1="509.30" x2="218.00" y2="513.50" stroke="#4d4d4d" stroke-width="0.85"/>
<text transform="matrix(0.9748,0,0,1,209.76,526.10)" font-size="10.1">210</text>
<text transform="matrix(1.1209,0,0,1,120.04,424.70)" font-size="11.0">Nervous</text>
<text transform="matrix(1.0995,0,0,1,117.31,544.30)" font-size="11.0">Lag day</text>
<path d="M289.50,429.80 V509.30 H455.00" fill="none" stroke="#4d4d4d" stroke-width="0.85"/>
<path d="M289.50,434.43 L291.00,435.48 L292.50,436.53 L294.00,437.57 L295.50,438.60 L297.00,439.63 L298.50,440.65 L300.00,441.65 L301.50,442.64 L303.00,443.62 L304.50,444.57 L306.00,445.51 L307.50,446.42 L309.00,447.32 L310.50,448.19 L312.00,449.03 L313.50,449.86 L315.00,450.65 L316.50,451.43 L318.00,452.17 L319.50,452.89 L321.00,453.59 L322.50,454.26 L324.00,454.90 L325.50,455.52 L327.00,456.12 L328.50,456.70 L330.00,457.27 L331.50,457.83 L333.00,458.37 L334.50,458.92 L336.00,459.46 L337.50,460.01 L339.00,460.55 L340.50,461.10 L342.00,461.66 L343.50,462.22 L345.00,462.79 L346.50,463.36 L348.00,463.95 L349.50,464.54 L351.00,465.14 L352.50,465.73 L354.00,466.32 L355.50,466.91 L357.00,467.48 L358.50,468.05 L360.00,468.60 L361.50,469.14 L363.00,469.66 L364.50,470.17 L366.00,470.66 L367.50,471.13 L369.00,471.58 L370.50,472.01 L372.00,472.42 L373.50,472.81 L375.00,473.19 L376.50,473.54 L378.00,473.88 L379.50,474.21 L381.00,474.52 L382.50,474.81 L384.00,475.09 L385.50,475.35 L387.00,475.60 L388.50,475.82 L390.00,476.03 L391.50,476.21 L393.00,476.38 L394.50,476.52 L396.00,476.64 L397.50,476.75 L399.00,476.83 L400.50,476.90 L402.00,476.94 L403.50,476.97 L405.00,476.98 L406.50,476.96 L408.00,476.93 L409.50,476.86 L411.00,476.77 L412.50,476.64 L414.00,476.49 L415.50,476.30 L417.00,476.08 L418.50,475.84 L420.00,475.56 L421.50,475.26 L423.00,474.94 L424.50,474.60 L426.00,474.24 L427.50,473.85 L429.00,473.45 L430.50,473.03 L432.00,472.58 L433.50,472.12 L435.00,471.64 L436.50,471.14 L438.00,470.62 L439.50,470.09 L441.00,469.54 L442.50,468.98 L444.00,468.42 L445.50,467.84 L447.00,467.27 L447.00,501.75 L445.50,501.70 L444.00,501.66 L442.50,501.62 L441.00,501.59 L439.50,501.57 L438.00,501.56 L436.50,501.56 L435.00,501.58 L433.50,501.62 L432.00,501.67 L430.50,501.74 L429.00,501.83 L427.50,501.93 L426.00,502.04 L424.50,502.17 L423.00,502.32 L421.50,502.47 L420.00,502.64 L418.50,502.80 L417.00,502.96 L415.50,503.11 L414.00,503.25 L412.50,503.37 L411.00,503.48 L409.50,503.56 L408.00,503.61 L406.50,503.65 L405.00,503.65 L403.50,503.63 L402.00,503.58 L400.50,503.49 L399.00,503.38 L397.50,503.24 L396.00,503.08 L394.50,502.89 L393.00,502.68 L391.50,502.45 L390.00,502.20 L388.50,501.94 L387.00,501.65 L385.50,501.36 L384.00,501.04 L382.50,500.71 L381.00,500.36 L379.50,500.00 L378.00,499.61 L376.50,499.21 L375.00,498.78 L373.50,498.33 L372.00,497.84 L370.50,497.33 L369.00,496.78 L367.50,496.19 L366.00,495.56 L364.50,494.91 L363.00,494.25 L361.50,493.57 L360.00,492.88 L358.50,492.20 L357.00,491.53 L355.50,490.87 L354.00,490.22 L352.50,489.58 L351.00,488.96 L349.50,488.34 L348.00,487.73 L346.50,487.13 L345.00,486.53 L343.50,485.93 L342.00,485.34 L340.50,484.75 L339.00,484.16 L337.50,483.57 L336.00,482.98 L334.50,482.39 L333.00,481.80 L331.50,481.21 L330.00,480.63 L328.50,480.05 L327.00,479.49 L325.50,478.94 L324.00,478.41 L322.50,477.90 L321.00,477.42 L319.50,476.95 L318.00,476.52 L316.50,476.11 L315.00,475.73 L313.50,475.39 L312.00,475.08 L310.50,474.80 L309.00,474.57 L307.50,474.37 L306.00,474.20 L304.50,474.07 L303.00,473.97 L301.50,473.90 L300.00,473.86 L298.50,473.85 L297.00,473.87 L295.50,473.90 L294.00,473.95 L292.50,474.01 L291.00,474.08 L289.50,474.15 Z" fill="rgb(189,65,67)" fill-opacity="0.5"/>
<line x1="289.10" y1="505.80" x2="455.00" y2="505.80" stroke="#333333" stroke-width="1.3" stroke-dasharray="3.95 3.31"/>
<path d="M289.50,453.94 L291.00,454.45 L292.50,454.96 L294.00,455.47 L295.50,455.99 L297.00,456.50 L298.50,457.03 L300.00,457.55 L301.50,458.09 L303.00,458.63 L304.50,459.18 L306.00,459.74 L307.50,460.30 L309.00,460.87 L310.50,461.44 L312.00,462.02 L313.50,462.60 L315.00,463.18 L316.50,463.77 L318.00,464.36 L319.50,464.95 L321.00,465.54 L322.50,466.13 L324.00,466.72 L325.50,467.31 L327.00,467.89 L328.50,468.48 L330.00,469.06 L331.50,469.65 L333.00,470.24 L334.50,470.82 L336.00,471.41 L337.50,472.00 L339.00,472.60 L340.50,473.19 L342.00,473.78 L343.50,474.38 L345.00,474.98 L346.50,475.58 L348.00,476.18 L349.50,476.78 L351.00,477.38 L352.50,477.98 L354.00,478.57 L355.50,479.16 L357.00,479.74 L358.50,480.31 L360.00,480.88 L361.50,481.43 L363.00,481.97 L364.50,482.50 L366.00,483.00 L367.50,483.49 L369.00,483.96 L370.50,484.41 L372.00,484.83 L373.50,485.24 L375.00,485.63 L376.50,486.01 L378.00,486.37 L379.50,486.72 L381.00,487.06 L382.50,487.40 L384.00,487.72 L385.50,488.02 L387.00,488.31 L388.50,488.59 L390.00,488.84 L391.50,489.08 L393.00,489.29 L394.50,489.48 L396.00,489.65 L397.50,489.79 L399.00,489.91 L400.50,490.01 L402.00,490.07 L403.50,490.11 L405.00,490.12 L406.50,490.10 L408.00,490.06 L409.50,489.99 L411.00,489.91 L412.50,489.80 L414.00,489.67 L415.50,489.52 L417.00,489.35 L418.50,489.17 L420.00,488.98 L421.50,488.77 L423.00,488.56 L424.50,488.35 L426.00,488.12 L427.50,487.90 L429.00,487.67 L430.50,487.43 L432.00,487.19 L433.50,486.95 L435.00,486.70 L436.50,486.44 L438.00,486.18 L439.50,485.92 L441.00,485.65 L442.50,485.37 L444.00,485.10 L445.50,484.82 L447.00,484.55" fill="none" stroke="#cc3333" stroke-width="1.15"/>
<line x1="285.10" y1="436.30" x2="289.50" y2="436.30" stroke="#4d4d4d" stroke-width="0.85"/>
<text transform="matrix(1.0702,0,0,1,253.04,439.70)" font-size="10.1">1.004</text>
<line x1="285.10" y1="453.90" x2="289.50" y2="453.90" stroke="#4d4d4d" stroke-width="0.85"/>
<text transform="matrix(1.0830,0,0,1,252.83,457.30)" font-size="10.1">1.003</text>
<line x1="285.10" y1="471.40" x2="289.50" y2="471.40" stroke="#4d4d4d" stroke-width="0.85"/>
<text transform="matrix(1.0667,0,0,1,253.35,474.80)" font-size="10.1">1.002</text>
<line x1="285.10" y1="488.60" x2="289.50" y2="488.60" stroke="#4d4d4d" stroke-width="0.85"/>
<text transform="matrix(0.9958,0,0,1,255.10,492.00)" font-size="10.1">1.001</text>
<line x1="285.10" y1="505.90" x2="289.50" y2="505.90" stroke="#4d4d4d" stroke-width="0.85"/>
<text transform="matrix(1.1162,0,0,1,252.01,509.30)" font-size="10.1">1.000</text>
<line x1="289.50" y1="509.30" x2="289.50" y2="513.50" stroke="#4d4d4d" stroke-width="0.85"/>
<text transform="matrix(1.2292,0,0,1,286.06,526.10)" font-size="10.1">0</text>
<line x1="312.00" y1="509.30" x2="312.00" y2="513.50" stroke="#4d4d4d" stroke-width="0.85"/>
<text transform="matrix(1.1154,0,0,1,305.75,526.10)" font-size="10.1">30</text>
<line x1="334.50" y1="509.30" x2="334.50" y2="513.50" stroke="#4d4d4d" stroke-width="0.85"/>
<text transform="matrix(1.1650,0,0,1,327.92,526.10)" font-size="10.1">60</text>
<line x1="357.00" y1="509.30" x2="357.00" y2="513.50" stroke="#4d4d4d" stroke-width="0.85"/>
<text transform="matrix(1.1650,0,0,1,350.42,526.10)" font-size="10.1">90</text>
<line x1="379.50" y1="509.30" x2="379.50" y2="513.50" stroke="#4d4d4d" stroke-width="0.85"/>
<text transform="matrix(0.9808,0,0,1,371.07,526.10)" font-size="10.1">120</text>
<line x1="402.00" y1="509.30" x2="402.00" y2="513.50" stroke="#4d4d4d" stroke-width="0.85"/>
<text transform="matrix(1.0256,0,0,1,393.18,526.10)" font-size="10.1">150</text>
<line x1="424.50" y1="509.30" x2="424.50" y2="513.50" stroke="#4d4d4d" stroke-width="0.85"/>
<text transform="matrix(1.0128,0,0,1,415.79,526.10)" font-size="10.1">180</text>
<line x1="447.00" y1="509.30" x2="447.00" y2="513.50" stroke="#4d4d4d" stroke-width="0.85"/>
<text transform="matrix(0.9748,0,0,1,438.76,526.10)" font-size="10.1">210</text>
<text transform="matrix(1.0923,0,0,1,356.92,424.60)" font-size="11.0">Renal</text>
<text transform="matrix(1.0995,0,0,1,350.51,544.30)" font-size="11.0">Lag day</text>
<g transform="translate(8.7,263.4) rotate(-90)"><text transform="matrix(0.8645,0,0,1,-7.56,0.00)" font-size="11.8">RR</text></g>
</svg></body></html>
